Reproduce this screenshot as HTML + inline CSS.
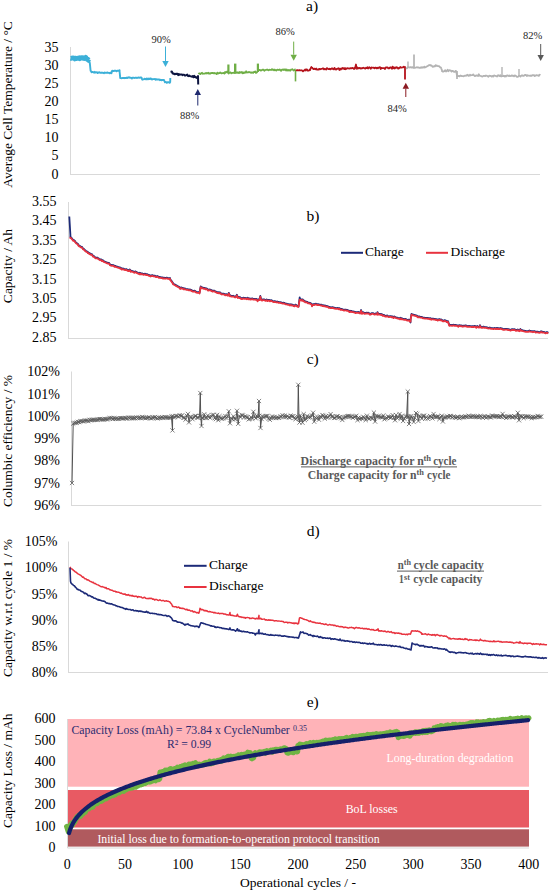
<!DOCTYPE html>
<html><head><meta charset="utf-8"><style>
html,body{margin:0;padding:0;background:#fff;width:550px;height:895px;overflow:hidden}
svg{display:block}
text{font-family:"Liberation Serif",serif}
</style></head><body>
<svg width="550" height="895" viewBox="0 0 550 895">
<rect width="550" height="895" fill="#fff"/>
<text x="306.00" y="10.90" font-size="15.5" text-anchor="start" fill="#000" font-weight="normal" >a)</text>
<text x="0" y="0" font-size="13.5" text-anchor="middle" transform="translate(11.9,104.5) rotate(-90)">Average Cell Temperature / °C</text>
<text x="58.50" y="178.55" font-size="14" text-anchor="end" fill="#000" font-weight="normal" >0</text>
<text x="58.50" y="160.41" font-size="14" text-anchor="end" fill="#000" font-weight="normal" >5</text>
<text x="58.50" y="142.26" font-size="14" text-anchor="end" fill="#000" font-weight="normal" >10</text>
<text x="58.50" y="124.12" font-size="14" text-anchor="end" fill="#000" font-weight="normal" >15</text>
<text x="58.50" y="105.98" font-size="14" text-anchor="end" fill="#000" font-weight="normal" >20</text>
<text x="58.50" y="87.84" font-size="14" text-anchor="end" fill="#000" font-weight="normal" >25</text>
<text x="58.50" y="69.69" font-size="14" text-anchor="end" fill="#000" font-weight="normal" >30</text>
<text x="58.50" y="51.55" font-size="14" text-anchor="end" fill="#000" font-weight="normal" >35</text>
<line x1="70.5" y1="47" x2="70.5" y2="174.5" stroke="#d9d9d9" stroke-width="1"/>
<line x1="70" y1="174.5" x2="540" y2="174.5" stroke="#d9d9d9" stroke-width="1"/>
<polyline points="70.50,58.30 71.10,58.46 71.70,58.18 72.30,57.88 72.90,58.10 73.50,57.84 74.10,58.38 74.70,59.02 75.30,58.12 75.90,58.06 76.50,58.62 77.10,58.56 77.70,58.45 78.30,57.94 78.90,58.39 79.50,58.76 80.10,57.75 80.70,58.20 81.30,57.49 81.90,57.80 82.50,57.53 83.10,58.35 83.70,57.84 84.30,58.61 84.90,58.56 85.50,58.40 86.00,57.24 86.10,58.31 86.70,59.04 87.30,59.60 87.90,59.25 88.50,60.26 88.50,60.01" fill="none" stroke="#3cb0d8" stroke-width="4.6" stroke-linejoin="round" />
<polyline points="88.50,60.76 89.20,62.40 89.80,62.76 89.90,63.93 90.60,70.77 90.60,70.32 91.30,71.79 91.50,72.23 92.00,72.24 92.70,71.88 93.40,72.31 94.10,72.72 94.80,71.88 95.50,72.63 96.20,72.44 96.90,72.24 97.60,73.06 98.30,72.72 99.00,72.16 99.70,72.58 100.40,72.76 101.10,72.56 101.80,72.85 102.50,72.66 103.20,72.91 103.90,73.17 104.60,72.56 105.30,72.86 106.00,72.69 106.70,72.90 107.40,72.53 108.10,72.74 108.80,72.89 109.50,73.25 110.00,73.34 110.20,72.60 110.90,72.76 111.50,73.19 111.60,72.09 112.20,70.66 112.30,70.77 113.00,71.18 113.70,71.01 114.40,70.70 115.10,70.69 115.80,70.72 116.50,71.26 117.20,70.67 117.90,70.71 118.60,70.91 119.30,70.76 119.50,70.74 120.00,75.61 120.20,78.00 120.70,77.86 121.40,78.33 122.10,78.17 122.80,77.96 123.50,78.15 124.20,77.84 124.90,78.25 125.60,77.92 126.30,78.09 127.00,77.52 127.70,78.00 128.40,77.38 129.10,77.26 129.80,77.77 130.50,77.58 131.20,77.89 131.90,78.51 132.60,77.58 133.30,77.63 134.00,77.87 134.70,77.94 135.40,77.73 136.10,77.71 136.80,77.98 137.50,77.91 138.20,77.44 138.90,77.71 139.60,77.74 140.30,77.40 141.00,77.78 141.50,77.44 141.70,78.47 142.30,79.66 142.40,79.62 143.10,79.34 143.80,79.41 144.50,78.77 145.20,78.96 145.90,79.33 146.60,78.51 147.30,79.33 148.00,78.48 148.70,79.16 149.40,78.61 150.00,79.03 150.10,78.85 150.80,78.42 151.50,79.32 152.20,79.45 152.90,79.07 153.60,79.08 154.30,79.18 155.00,79.01 155.70,79.70 156.40,79.28 157.10,79.49 157.80,79.34 158.50,79.46 159.20,79.34 159.90,80.17 160.60,79.81 161.30,80.22 162.00,80.00 162.70,79.86 163.40,80.04 164.00,80.03 164.10,80.42 164.80,81.85 165.00,82.31 165.50,81.99 166.20,82.16 166.90,82.90 167.60,82.20 168.30,82.08 169.00,82.50 169.70,82.82 170.20,81.96 170.30,78.00" fill="none" stroke="#3cb0d8" stroke-width="1.9" stroke-linejoin="round" />
<line x1="119.5" y1="70.8" x2="119.5" y2="69.4" stroke="#3cb0d8" stroke-width="1.6"/>
<polyline points="170.50,71.39 171.20,71.65 171.90,71.53 172.60,73.40 173.30,73.49 174.00,74.04 174.00,73.59 174.70,74.31 175.40,73.83 176.10,74.11 176.80,73.65 177.50,73.65 178.20,75.12 178.90,74.17 179.60,74.67 180.30,74.55 181.00,74.39 181.70,74.42 182.40,75.11 183.10,74.66 183.80,74.81 184.50,74.97 185.00,75.65 185.20,75.41 185.90,75.36 186.60,74.95 187.30,74.62 188.00,76.01 188.70,76.14 189.40,75.64 190.10,76.13 190.80,76.38 191.50,76.52 192.20,76.68 192.90,76.04 193.60,77.24 194.30,75.84 195.00,77.11 195.70,77.02 196.00,77.28 196.40,77.87 197.10,77.73 197.80,76.35 198.00,76.07 198.20,84.60" fill="none" stroke="#0d1540" stroke-width="2.0" stroke-linejoin="round" />
<polyline points="198.50,74.17 199.20,73.32 199.90,73.75 200.60,74.11 201.30,72.98 202.00,72.74 202.70,73.79 203.40,73.67 204.10,73.52 204.80,73.63 205.50,73.20 206.20,72.89 206.90,73.47 207.60,73.09 208.30,72.76 209.00,73.71 209.70,73.43 210.40,73.62 211.10,72.97 211.80,73.10 212.50,72.93 213.20,72.96 213.90,73.42 214.60,72.96 215.30,73.45 216.00,73.42 216.70,74.16 217.40,72.60 218.10,73.61 218.80,73.15 219.50,73.16 220.20,72.49 220.90,72.92 221.60,73.44 222.30,73.04 223.00,73.10 223.70,72.91 224.40,73.54 225.00,72.99 225.10,72.01 225.80,72.67 226.50,72.08 227.20,71.48 227.90,72.69 228.60,73.51 229.30,72.91 230.00,72.35 230.70,72.43 231.40,73.35 232.10,72.89 232.80,72.82 233.50,72.76 234.20,72.78 234.90,73.11 235.60,72.98 236.30,72.81 237.00,72.23 237.70,72.91 238.40,72.35 239.10,73.13 239.80,72.05 240.50,72.54 241.20,72.59 241.90,71.97 242.60,73.33 243.30,73.19 244.00,72.31 244.70,72.85 245.40,72.65 246.10,71.29 246.80,72.56 247.50,72.40 248.20,72.45 248.90,71.91 249.60,72.25 250.30,72.28 251.00,72.87 251.70,72.47 252.40,72.30 253.10,72.97 253.80,72.02 254.50,72.08 255.20,71.42 255.90,72.92 256.50,72.63 256.60,72.52 257.30,71.80 258.00,70.93 258.70,70.36 259.00,69.89 259.40,69.91 260.10,70.02 260.80,70.67 261.50,70.24 262.20,69.96 262.90,69.72 263.60,69.69 264.30,70.69 265.00,70.20 265.70,69.99 266.40,69.80 267.10,69.46 267.80,69.92 268.50,70.34 269.20,69.77 269.90,69.84 270.60,69.84 271.30,69.98 272.00,69.21 272.70,69.82 273.40,69.54 274.10,70.32 274.80,69.57 275.50,70.17 276.20,70.59 276.90,69.76 277.60,69.63 278.30,69.98 279.00,69.89 279.70,69.44 280.40,70.09 281.10,70.79 281.80,69.76 282.50,69.78 283.20,69.40 283.90,70.01 284.60,69.30 285.30,69.36 286.00,70.43 286.70,69.44 287.40,70.33 288.10,70.53 288.80,69.95 289.50,70.08 290.20,70.71 290.90,69.74 291.60,69.55 292.30,69.21 293.00,69.83 293.70,70.48 294.40,70.24 295.10,69.38 295.50,69.42" fill="none" stroke="#6fae46" stroke-width="1.8" stroke-linejoin="round" />
<rect x="227.3" y="64.5" width="2.1999999999999886" height="8.441587301587305" fill="#6fae46"/>
<rect x="234" y="63.6" width="2.4000000000000057" height="9.17142857142857" fill="#6fae46"/>
<rect x="256.8" y="63.6" width="2.1999999999999886" height="8.335999999999991" fill="#6fae46"/>
<line x1="295.5" y1="69.5" x2="295.5" y2="81.4" stroke="#6fae46" stroke-width="1.6"/>
<polyline points="296.00,70.05 296.70,70.45 297.40,70.20 298.10,70.41 298.80,70.45 299.50,70.15 300.20,70.28 300.90,70.40 301.60,70.26 302.30,70.55 303.00,71.24 303.70,70.60 304.40,70.33 305.10,69.46 305.80,70.49 306.50,69.33 307.20,69.60 307.90,70.73 308.60,70.65 309.30,70.23 310.00,69.44 310.00,70.11 310.70,68.19 311.40,67.07 311.50,67.63 312.10,67.69 312.80,68.45 313.00,68.61 313.50,69.16 314.20,69.09 314.90,68.59 315.60,69.21 316.30,68.57 317.00,69.69 317.70,69.65 318.40,69.65 319.10,68.86 319.80,69.34 320.50,69.01 321.20,68.87 321.90,68.88 322.60,68.39 323.30,68.31 324.00,69.41 324.70,68.91 325.40,69.10 326.10,69.48 326.80,68.10 327.50,68.57 328.20,69.03 328.90,69.13 329.60,68.73 330.30,69.43 331.00,69.01 331.70,68.28 332.40,68.41 333.10,69.27 333.80,69.09 334.50,67.89 335.20,69.50 335.90,69.12 336.60,69.48 337.30,68.60 338.00,68.64 338.70,68.21 339.40,70.03 340.10,68.66 340.80,69.53 341.50,68.40 342.20,68.80 342.90,67.87 343.60,68.50 344.30,69.17 345.00,68.04 345.70,69.19 346.40,68.81 347.10,68.11 347.80,68.37 348.50,68.38 349.20,68.57 349.90,68.32 350.60,68.16 351.30,68.41 352.00,68.04 352.70,67.89 353.40,68.50 354.10,68.96 354.80,67.74 355.00,68.50 355.50,66.43 356.00,64.51 356.20,66.07 356.90,67.62 357.00,68.95 357.60,67.81 358.30,68.39 359.00,68.08 359.70,67.81 360.40,68.48 361.10,68.10 361.80,68.48 362.50,68.15 363.20,67.63 363.90,68.12 364.60,68.19 365.30,68.64 366.00,67.71 366.70,68.14 367.40,67.29 368.10,68.47 368.80,67.60 369.50,67.24 370.20,68.11 370.90,68.69 371.60,67.37 372.30,67.58 373.00,67.75 373.70,67.56 374.40,68.31 375.10,67.71 375.80,67.75 376.50,68.40 377.20,67.73 377.90,68.32 378.60,67.61 379.30,67.49 380.00,67.18 380.70,69.02 381.40,67.93 382.10,68.21 382.80,68.06 383.50,68.16 384.20,68.10 384.90,69.02 385.60,67.55 386.30,67.28 387.00,67.55 387.70,67.39 388.40,68.43 389.10,68.46 389.80,67.57 390.50,67.35 391.20,67.86 391.90,68.73 392.60,66.62 393.30,68.29 394.00,67.49 394.70,68.54 395.40,67.48 396.10,67.88 396.80,67.26 397.50,67.52 398.20,68.70 398.90,68.42 399.60,67.80 400.00,67.56 400.30,66.99 401.00,67.60 401.70,67.64 402.40,67.48 403.10,67.33 403.80,66.68 404.00,67.17 404.50,67.18 405.00,67.00 405.00,79.50" fill="none" stroke="#b5121b" stroke-width="1.8" stroke-linejoin="round" />
<polyline points="406.00,68.15 406.80,68.45 407.60,67.46 408.40,67.16 409.20,67.52 410.00,67.26 410.80,67.21 411.60,67.56 412.40,67.09 413.20,67.92 414.00,67.58 414.80,67.77 415.60,67.57 416.40,67.31 417.20,67.21 418.00,67.58 418.80,67.44 419.60,67.84 420.40,67.74 421.20,67.07 422.00,67.80 422.80,67.11 423.60,67.49 424.00,67.65 424.40,66.59 425.20,67.33 426.00,67.01 426.80,66.51 427.60,66.03 428.40,65.71 429.20,65.06 430.00,65.07 430.00,64.92 430.80,65.67 431.60,65.45 432.40,66.60 433.00,66.87 433.20,66.66 434.00,66.26 434.80,66.49 435.60,65.12 436.40,65.93 437.00,65.62 437.20,65.74 438.00,66.19 438.80,66.07 439.60,66.67 440.40,67.52 441.00,67.72 441.20,68.30 442.00,70.24 442.00,71.27 442.80,71.58 443.60,71.50 444.40,71.12 445.20,70.22 446.00,71.47 446.80,70.93 447.60,69.73 448.40,71.19 449.20,70.25 450.00,70.35 450.80,70.68 451.60,71.64 452.40,70.81 453.20,71.14 454.00,71.87 454.80,71.80 455.60,70.95 456.00,70.88 456.40,72.37 457.00,75.65 457.20,76.20 458.00,76.16 458.80,75.99 459.60,76.40 460.40,75.48 461.20,75.81 462.00,76.17 462.80,76.07 463.60,76.28 464.40,75.91 465.20,75.53 466.00,75.83 466.80,75.12 467.60,74.77 468.40,75.85 469.20,75.50 470.00,75.65 470.00,74.65 470.80,75.33 471.60,75.23 472.40,75.11 473.20,74.43 474.00,75.40 474.80,76.03 475.60,75.78 476.40,75.31 477.20,75.61 478.00,76.01 478.80,74.27 479.60,75.60 480.40,75.94 481.20,76.03 482.00,76.55 482.80,76.28 483.60,75.88 484.40,75.89 485.20,76.15 486.00,75.50 486.80,75.76 487.60,76.25 488.40,76.79 489.20,75.74 490.00,75.81 490.80,75.95 491.60,76.53 492.40,75.86 493.20,76.62 494.00,75.42 494.80,75.82 495.60,75.83 496.40,76.33 497.20,76.48 498.00,75.21 498.80,75.52 499.60,76.16 500.00,75.67 500.40,75.23 501.20,76.50 502.00,76.22 502.80,76.21 503.60,75.72 504.40,76.46 505.20,75.82 506.00,76.47 506.80,75.46 507.60,75.48 508.40,76.00 509.20,75.53 510.00,76.21 510.80,76.00 511.60,75.39 512.40,75.88 513.20,75.66 514.00,76.28 514.80,75.50 515.60,75.59 516.40,76.40 517.20,76.90 518.00,76.77 518.80,75.80 519.60,75.86 520.40,76.51 521.20,75.67 522.00,75.24 522.80,75.77 523.60,75.93 524.40,75.28 525.20,74.86 526.00,74.96 526.80,76.00 527.60,75.28 528.40,75.57 529.20,75.74 530.00,75.93 530.80,75.45 531.60,75.85 532.40,75.15 533.20,75.40 534.00,75.06 534.80,76.13 535.60,75.54 536.40,75.18 537.20,75.36 538.00,75.41 538.80,75.87 539.60,74.71 540.00,74.98 540.40,75.31" fill="none" stroke="#b3b3b3" stroke-width="1.8" stroke-linejoin="round" />
<line x1="414" y1="67.5" x2="414" y2="54.5" stroke="#b3b3b3" stroke-width="1.7"/>
<line x1="408" y1="67.5" x2="408" y2="61.5" stroke="#b3b3b3" stroke-width="1.4"/>
<line x1="457" y1="71" x2="457" y2="79" stroke="#b3b3b3" stroke-width="1.7"/>
<line x1="502" y1="76" x2="502" y2="67" stroke="#b3b3b3" stroke-width="1.4"/>
<line x1="519" y1="76" x2="519" y2="69" stroke="#b3b3b3" stroke-width="1.4"/>
<line x1="165.5" y1="46.5" x2="165.5" y2="61" stroke="#3cb0d8" stroke-width="1"/>
<path d="M162.3,61 L168.7,61 L165.5,67 Z" fill="#3cb0d8"/>
<text x="161.00" y="43.20" font-size="10.5" text-anchor="middle" fill="#262626" font-weight="normal" >90%</text>
<line x1="197.8" y1="105.5" x2="197.8" y2="94.9" stroke="#1f2a6e" stroke-width="1"/>
<path d="M194.60000000000002,94.9 L201.0,94.9 L197.8,88.9 Z" fill="#1f2a6e"/>
<text x="189.50" y="119.00" font-size="10.5" text-anchor="middle" fill="#262626" font-weight="normal" >88%</text>
<line x1="293.7" y1="41.6" x2="293.7" y2="54.7" stroke="#6fae46" stroke-width="1"/>
<path d="M290.5,54.7 L296.9,54.7 L293.7,60.7 Z" fill="#6fae46"/>
<text x="285.00" y="35.20" font-size="10.5" text-anchor="middle" fill="#262626" font-weight="normal" >86%</text>
<line x1="405.8" y1="97" x2="405.8" y2="88.7" stroke="#8b1a22" stroke-width="1"/>
<path d="M402.6,88.7 L409.0,88.7 L405.8,82.7 Z" fill="#8b1a22"/>
<text x="397.00" y="111.50" font-size="10.5" text-anchor="middle" fill="#262626" font-weight="normal" >84%</text>
<line x1="540.7" y1="44" x2="540.7" y2="55" stroke="#595959" stroke-width="1"/>
<path d="M537.5,55 L543.9000000000001,55 L540.7,61 Z" fill="#595959"/>
<text x="532.50" y="38.80" font-size="10.5" text-anchor="middle" fill="#262626" font-weight="normal" >82%</text>
<text x="306.50" y="221.30" font-size="15.5" text-anchor="start" fill="#000" font-weight="normal" >b)</text>
<text x="0" y="0" font-size="13.5" text-anchor="middle" transform="translate(11.9,266) rotate(-90)">Capacity / Ah</text>
<text x="56.50" y="341.80" font-size="14" text-anchor="end" fill="#000" font-weight="normal" >2.85</text>
<text x="56.50" y="322.37" font-size="14" text-anchor="end" fill="#000" font-weight="normal" >2.95</text>
<text x="56.50" y="302.94" font-size="14" text-anchor="end" fill="#000" font-weight="normal" >3.05</text>
<text x="56.50" y="283.51" font-size="14" text-anchor="end" fill="#000" font-weight="normal" >3.15</text>
<text x="56.50" y="264.09" font-size="14" text-anchor="end" fill="#000" font-weight="normal" >3.25</text>
<text x="56.50" y="244.66" font-size="14" text-anchor="end" fill="#000" font-weight="normal" >3.35</text>
<text x="56.50" y="225.23" font-size="14" text-anchor="end" fill="#000" font-weight="normal" >3.45</text>
<text x="56.50" y="205.80" font-size="14" text-anchor="end" fill="#000" font-weight="normal" >3.55</text>
<line x1="68.5" y1="202" x2="68.5" y2="338.5" stroke="#d9d9d9" stroke-width="1"/>
<line x1="68" y1="338.5" x2="548" y2="338.5" stroke="#d9d9d9" stroke-width="1"/>
<polyline points="69.30,216.50 70.40,235.00 70.40,237.10 71.30,237.64 72.20,238.75 73.10,240.02 74.00,240.20 74.90,241.02 75.80,242.36 76.70,243.01 76.90,243.25 77.60,243.49 78.50,244.99 79.40,245.70 80.30,246.12 81.20,246.92 82.10,246.88 83.00,248.45 83.90,248.96 84.80,249.92 85.70,250.76 86.60,251.22 87.50,251.59 87.80,252.46 88.40,252.49 89.30,253.15 90.20,253.60 91.10,254.22 92.00,254.16 92.90,255.76 93.80,256.00 94.70,256.80 95.60,257.60 96.50,257.54 97.40,257.53 98.30,258.34 98.70,258.49 99.20,258.92 100.10,259.50 101.00,259.28 101.90,260.39 102.80,260.24 103.70,261.19 104.60,261.47 105.50,261.81 106.40,262.29 107.30,262.55 108.20,262.94 109.10,263.02 109.60,263.74 110.00,264.46 110.90,264.84 111.80,264.99 112.70,265.15 113.60,265.09 114.50,266.07 115.40,265.96 116.30,266.31 117.20,266.59 118.10,267.05 119.00,267.23 119.90,267.69 120.00,267.42 120.80,267.86 121.70,268.90 122.60,268.44 123.50,268.64 124.40,269.12 125.30,269.42 126.20,269.12 127.10,269.64 128.00,270.23 128.90,270.28 129.80,269.48 130.70,271.16 131.60,270.74 132.50,271.21 133.40,271.28 134.30,272.13 135.20,271.34 136.10,271.98 137.00,272.27 137.90,272.87 138.80,273.10 139.70,273.59 140.00,272.78 140.60,273.59 141.50,273.45 142.40,273.51 143.30,274.04 144.20,273.77 145.10,273.60 146.00,274.28 146.90,274.11 147.80,274.54 148.70,275.01 149.60,275.17 150.50,275.72 151.40,275.36 152.30,275.13 153.20,275.53 154.10,275.65 155.00,275.73 155.90,276.40 156.80,276.25 157.70,276.02 158.60,276.99 159.50,276.92 160.00,277.16 160.40,277.14 161.30,277.42 162.20,277.37 163.10,277.85 164.00,277.74 164.90,277.85 165.80,277.98 166.70,277.55 167.60,278.06 168.50,278.16 169.40,278.43 170.00,278.04 170.30,279.45 171.20,280.52 172.10,281.66 173.00,283.04 173.00,283.47 173.90,284.02 174.80,284.34 175.70,285.08 176.60,285.36 177.50,286.22 178.40,286.34 179.30,287.05 180.00,287.74 180.20,288.27 181.10,287.44 182.00,287.83 182.90,287.96 183.80,288.68 184.70,288.33 185.60,288.77 186.50,289.14 187.40,289.09 188.30,289.33 189.20,289.71 190.10,289.46 191.00,289.89 191.90,290.44 192.80,290.84 193.70,290.98 194.60,290.74 195.50,291.36 196.40,291.98 197.30,292.14 198.20,292.19 199.10,292.18 199.50,292.74 200.00,289.96 200.70,286.40 200.90,286.57 201.80,287.53 202.70,287.45 203.60,288.01 204.50,287.80 205.40,288.51 206.30,288.33 207.20,288.75 208.10,289.82 209.00,289.59 209.90,289.49 210.80,289.90 211.70,290.31 212.60,290.86 213.50,290.63 214.40,290.54 215.00,291.17 215.30,291.34 216.20,291.62 217.10,292.23 218.00,292.19 218.90,292.59 219.80,292.26 220.70,293.11 221.60,293.73 222.50,293.58 223.40,293.68 224.30,293.90 225.20,294.64 226.10,294.08 227.00,294.58 227.90,295.00 228.80,292.84 229.70,295.23 230.00,295.54 230.60,295.49 231.50,295.79 232.40,295.89 233.30,295.77 234.20,296.28 235.10,296.73 236.00,296.36 236.90,294.76 237.80,297.21 238.70,296.87 239.60,297.42 240.00,297.13 240.50,297.84 241.40,298.27 242.30,298.27 243.20,297.68 244.10,298.05 245.00,297.95 245.90,298.03 246.80,298.55 247.70,297.77 248.60,298.57 249.50,298.32 250.40,298.84 251.30,298.56 252.20,298.39 253.10,298.76 254.00,298.98 254.90,298.85 255.80,299.07 256.70,298.85 257.60,300.45 258.50,299.45 259.40,299.47 260.30,295.89 261.20,299.45 262.10,299.82 263.00,299.46 263.90,299.47 264.80,299.71 265.70,300.21 266.60,299.52 267.50,300.37 268.40,299.91 269.30,299.85 270.00,300.63 270.20,300.26 271.10,300.08 272.00,300.54 272.90,301.10 273.80,301.35 274.70,301.05 275.60,301.47 276.50,301.74 277.40,301.51 278.30,301.99 279.20,302.05 280.10,302.07 281.00,302.26 281.90,302.61 282.80,302.77 283.70,302.77 284.60,302.99 285.50,303.63 286.40,303.54 287.30,303.91 288.20,304.19 289.10,304.18 290.00,304.86 290.90,304.11 291.80,304.78 292.70,304.61 293.60,305.44 294.50,305.57 295.40,304.65 296.30,305.13 297.20,305.79 298.10,306.01 298.50,306.57 299.00,302.87 299.70,297.39 299.90,299.04 300.80,299.22 301.70,299.95 302.60,299.37 303.50,300.64 304.40,300.54 305.30,301.54 306.20,301.59 307.10,301.79 308.00,302.57 308.90,302.59 309.80,302.99 310.70,303.20 311.60,304.06 312.00,305.60 312.50,304.49 313.40,304.03 314.30,304.28 315.20,303.86 316.00,303.72 316.10,303.94 317.00,304.28 317.90,304.06 318.80,304.28 319.70,304.50 320.60,304.76 321.50,304.66 322.40,305.43 323.30,305.20 324.20,305.65 325.10,305.46 326.00,306.00 326.90,306.21 327.80,306.16 328.70,307.08 329.60,306.78 330.50,307.40 331.40,307.34 332.30,307.05 333.20,307.33 334.10,307.77 335.00,307.85 335.90,308.04 336.80,308.13 337.70,307.87 338.60,308.53 339.50,308.13 340.40,309.10 341.30,308.96 342.20,309.16 343.10,309.50 344.00,309.84 344.90,309.53 345.80,309.62 346.70,310.02 347.60,309.92 348.50,310.44 349.40,311.40 350.00,310.73 350.30,311.29 351.20,310.81 352.10,311.43 353.00,311.37 353.90,311.58 354.80,311.89 355.70,312.37 356.60,312.03 357.50,312.14 358.40,311.93 359.30,312.53 360.00,312.38 360.20,312.72 361.10,310.02 362.00,313.13 362.90,312.09 363.80,312.67 364.70,313.09 365.60,312.79 366.50,312.73 367.40,312.96 368.30,312.70 369.20,313.22 370.10,313.99 371.00,313.67 371.90,313.07 372.80,313.21 373.70,313.42 374.60,313.92 375.50,313.44 376.40,313.55 377.30,314.10 377.50,312.11 378.20,313.87 379.10,313.83 380.00,313.87 380.90,314.31 381.80,314.02 382.70,315.09 383.60,314.85 384.50,315.36 385.40,315.96 386.30,315.92 387.20,315.40 388.10,316.18 389.00,316.45 389.90,316.05 390.80,316.16 391.70,316.59 392.60,316.32 393.50,317.42 394.40,316.43 395.30,317.00 396.20,317.43 397.10,317.61 398.00,317.91 398.90,318.12 399.80,318.15 400.00,318.59 400.70,317.74 401.60,318.55 402.50,318.51 403.40,318.94 404.30,319.14 405.20,318.97 406.10,319.22 407.00,319.82 407.90,319.86 408.80,319.72 409.70,320.71 410.50,322.44 410.60,319.16 411.50,313.84 411.50,314.50 412.40,314.35 413.30,314.54 414.20,314.77 415.10,315.03 416.00,315.49 416.90,315.74 417.80,316.49 418.70,316.51 419.00,316.62 419.60,316.48 420.50,316.96 421.40,316.84 422.30,317.19 423.20,317.69 424.10,317.62 425.00,317.79 425.90,317.88 426.80,317.92 427.70,318.00 428.60,318.08 429.50,318.53 430.40,318.12 431.30,318.98 432.20,318.72 433.10,318.62 434.00,318.83 434.90,318.90 435.80,319.29 436.70,319.16 437.60,319.85 438.50,319.41 439.40,319.09 440.30,319.69 441.20,319.44 442.10,320.16 443.00,320.63 443.90,320.64 444.80,320.17 445.70,320.48 446.60,321.38 447.50,321.07 448.00,321.05 448.40,322.35 449.30,324.99 449.50,325.14 450.20,324.84 451.10,324.97 452.00,325.11 452.90,324.80 453.80,324.73 454.70,325.12 455.60,324.89 456.50,325.21 457.40,325.32 458.30,326.06 459.20,325.16 460.10,325.44 461.00,325.49 461.90,325.73 462.80,325.98 463.70,325.58 464.60,325.54 465.50,325.36 466.40,325.64 467.30,326.14 468.20,326.05 469.10,325.79 470.00,326.05 470.90,326.23 471.80,326.44 472.70,326.17 473.60,326.33 474.50,325.93 475.40,326.19 476.30,327.08 477.20,326.00 478.10,326.62 479.00,326.85 479.90,326.73 480.00,325.11 480.80,326.90 481.70,326.99 482.60,327.04 483.50,326.57 484.40,327.17 485.30,327.03 486.20,327.20 487.10,327.50 488.00,327.70 488.90,327.85 489.80,327.51 490.70,328.01 491.60,328.16 492.50,328.22 493.40,328.37 494.30,327.98 495.20,328.05 496.10,328.42 497.00,327.84 497.90,328.39 498.80,328.24 499.70,328.36 500.60,328.02 501.50,328.35 502.40,328.69 503.30,329.04 504.20,329.14 505.10,328.89 506.00,328.93 506.90,328.82 507.80,329.26 508.70,329.14 509.60,329.47 510.50,329.89 511.40,329.43 512.30,329.06 513.20,329.33 514.10,329.22 515.00,329.37 515.90,330.20 516.80,329.95 517.70,329.50 518.60,330.22 519.50,330.48 520.40,329.07 521.30,330.05 522.20,330.22 523.10,330.48 524.00,330.67 524.90,330.90 525.80,330.99 526.70,331.05 527.60,331.18 528.50,331.04 529.40,330.46 530.30,330.95 531.20,331.16 532.10,331.03 533.00,331.49 533.90,331.18 534.80,331.09 535.70,331.87 536.60,331.71 537.50,331.65 538.40,331.94 539.30,332.05 540.20,331.91 541.10,331.14 542.00,331.75 542.90,331.89 543.80,331.81 544.70,332.24 545.60,332.61 546.50,332.18 547.40,332.06 548.00,333.06" fill="none" stroke="#1c2a78" stroke-width="1.8" stroke-linejoin="round" />
<polyline points="69.50,237.46 70.40,237.85 71.30,238.39 72.20,239.50 73.10,240.77 74.00,240.95 74.90,241.77 75.80,243.11 76.70,243.76 76.90,244.00 77.60,244.24 78.50,245.74 79.40,246.45 80.30,246.87 81.20,247.67 82.10,247.63 83.00,249.20 83.90,249.71 84.80,250.67 85.70,251.51 86.60,251.97 87.50,252.34 87.80,253.21 88.40,253.24 89.30,253.90 90.20,254.35 91.10,254.97 92.00,254.91 92.90,256.51 93.80,256.75 94.70,257.55 95.60,258.35 96.50,258.29 97.40,258.28 98.30,259.09 98.70,259.24 99.20,259.67 100.10,260.25 101.00,260.03 101.90,261.14 102.80,260.99 103.70,261.94 104.60,262.22 105.50,262.56 106.40,263.04 107.30,263.30 108.20,263.69 109.10,263.77 109.60,264.49 110.00,265.21 110.90,265.59 111.80,265.74 112.70,265.90 113.60,265.84 114.50,266.82 115.40,266.71 116.30,267.06 117.20,267.34 118.10,267.80 119.00,267.98 119.90,268.44 120.00,268.17 120.80,268.61 121.70,269.65 122.60,269.19 123.50,269.39 124.40,269.87 125.30,270.17 126.20,269.87 127.10,270.39 128.00,270.98 128.90,271.03 129.80,270.23 130.70,271.91 131.60,271.49 132.50,271.96 133.40,272.03 134.30,272.88 135.20,272.09 136.10,272.73 137.00,273.02 137.90,273.62 138.80,273.85 139.70,274.34 140.00,273.53 140.60,274.34 141.50,274.20 142.40,274.26 143.30,274.79 144.20,274.52 145.10,274.35 146.00,275.03 146.90,274.86 147.80,275.29 148.70,275.76 149.60,275.92 150.50,276.47 151.40,276.11 152.30,275.88 153.20,276.28 154.10,276.40 155.00,276.48 155.90,277.15 156.80,277.00 157.70,276.77 158.60,277.74 159.50,277.67 160.00,277.91 160.40,277.89 161.30,278.17 162.20,278.12 163.10,278.60 164.00,278.49 164.90,278.60 165.80,278.73 166.70,278.30 167.60,278.81 168.50,278.91 169.40,279.18 170.00,278.79 170.30,280.20 171.20,281.27 172.10,282.41 173.00,283.79 173.00,284.22 173.90,284.77 174.80,285.09 175.70,285.83 176.60,286.11 177.50,286.97 178.40,287.09 179.30,287.80 180.00,288.49 180.20,289.02 181.10,288.19 182.00,288.58 182.90,288.71 183.80,289.43 184.70,289.08 185.60,289.52 186.50,289.89 187.40,289.84 188.30,290.08 189.20,290.46 190.10,290.21 191.00,290.64 191.90,291.19 192.80,291.59 193.70,291.73 194.60,291.49 195.50,292.11 196.40,292.73 197.30,292.89 198.20,292.94 199.10,292.93 199.50,293.49 200.00,290.71 200.70,287.15 200.90,287.32 201.80,288.28 202.70,288.20 203.60,288.76 204.50,288.55 205.40,289.26 206.30,289.08 207.20,289.50 208.10,290.57 209.00,290.34 209.90,290.24 210.80,290.65 211.70,291.06 212.60,291.61 213.50,291.38 214.40,291.29 215.00,291.92 215.30,292.09 216.20,292.37 217.10,292.98 218.00,292.94 218.90,293.34 219.80,293.01 220.70,293.86 221.60,294.48 222.50,294.33 223.40,294.43 224.30,294.65 225.20,295.39 226.10,294.83 227.00,295.33 227.90,295.75 228.80,293.59 229.70,295.98 230.00,296.29 230.60,296.24 231.50,296.54 232.40,296.64 233.30,296.52 234.20,297.03 235.10,297.48 236.00,297.11 236.90,295.51 237.80,297.96 238.70,297.62 239.60,298.17 240.00,297.88 240.50,298.59 241.40,299.02 242.30,299.02 243.20,298.43 244.10,298.80 245.00,298.70 245.90,298.78 246.80,299.30 247.70,298.52 248.60,299.32 249.50,299.07 250.40,299.59 251.30,299.31 252.20,299.14 253.10,299.51 254.00,299.73 254.90,299.60 255.80,299.82 256.70,299.60 257.60,301.20 258.50,300.20 259.40,300.22 260.30,296.64 261.20,300.20 262.10,300.57 263.00,300.21 263.90,300.22 264.80,300.46 265.70,300.96 266.60,300.27 267.50,301.12 268.40,300.66 269.30,300.60 270.00,301.38 270.20,301.01 271.10,300.83 272.00,301.29 272.90,301.85 273.80,302.10 274.70,301.80 275.60,302.22 276.50,302.49 277.40,302.26 278.30,302.74 279.20,302.80 280.10,302.82 281.00,303.01 281.90,303.36 282.80,303.52 283.70,303.52 284.60,303.74 285.50,304.38 286.40,304.29 287.30,304.66 288.20,304.94 289.10,304.93 290.00,305.61 290.90,304.86 291.80,305.53 292.70,305.36 293.60,306.19 294.50,306.32 295.40,305.40 296.30,305.88 297.20,306.54 298.10,306.76 298.50,306.82 299.00,303.62 299.70,299.64 299.90,299.79 300.80,299.97 301.70,300.70 302.60,300.12 303.50,301.39 304.40,301.29 305.30,302.29 306.20,302.34 307.10,302.54 308.00,303.32 308.90,303.34 309.80,303.74 310.70,303.95 311.60,304.81 312.00,306.35 312.50,305.24 313.40,304.78 314.30,305.03 315.20,304.61 316.00,304.47 316.10,304.69 317.00,305.03 317.90,304.81 318.80,305.03 319.70,305.25 320.60,305.51 321.50,305.41 322.40,306.18 323.30,305.95 324.20,306.40 325.10,306.21 326.00,306.75 326.90,306.96 327.80,306.91 328.70,307.83 329.60,307.53 330.50,308.15 331.40,308.09 332.30,307.80 333.20,308.08 334.10,308.52 335.00,308.60 335.90,308.79 336.80,308.88 337.70,308.62 338.60,309.28 339.50,308.88 340.40,309.85 341.30,309.71 342.20,309.91 343.10,310.25 344.00,310.59 344.90,310.28 345.80,310.37 346.70,310.77 347.60,310.67 348.50,311.19 349.40,312.15 350.00,311.48 350.30,312.04 351.20,311.56 352.10,312.18 353.00,312.12 353.90,312.33 354.80,312.64 355.70,313.12 356.60,312.78 357.50,312.89 358.40,312.68 359.30,313.28 360.00,313.13 360.20,313.47 361.10,310.77 362.00,313.88 362.90,312.84 363.80,313.42 364.70,313.84 365.60,313.54 366.50,313.48 367.40,313.71 368.30,313.45 369.20,313.97 370.10,314.74 371.00,314.42 371.90,313.82 372.80,313.96 373.70,314.17 374.60,314.67 375.50,314.19 376.40,314.30 377.30,314.85 377.50,312.86 378.20,314.62 379.10,314.58 380.00,314.62 380.90,315.06 381.80,314.77 382.70,315.84 383.60,315.60 384.50,316.11 385.40,316.71 386.30,316.67 387.20,316.15 388.10,316.93 389.00,317.20 389.90,316.80 390.80,316.91 391.70,317.34 392.60,317.07 393.50,318.17 394.40,317.18 395.30,317.75 396.20,318.18 397.10,318.36 398.00,318.66 398.90,318.87 399.80,318.90 400.00,319.34 400.70,318.49 401.60,319.30 402.50,319.26 403.40,319.69 404.30,319.89 405.20,319.72 406.10,319.97 407.00,320.57 407.90,320.61 408.80,320.47 409.70,321.46 410.50,321.69 410.60,319.91 411.50,314.59 411.50,315.25 412.40,315.10 413.30,315.29 414.20,315.52 415.10,315.78 416.00,316.24 416.90,316.49 417.80,317.24 418.70,317.26 419.00,317.37 419.60,317.23 420.50,317.71 421.40,317.59 422.30,317.94 423.20,318.44 424.10,318.37 425.00,318.54 425.90,318.63 426.80,318.67 427.70,318.75 428.60,318.83 429.50,319.28 430.40,318.87 431.30,319.73 432.20,319.47 433.10,319.37 434.00,319.58 434.90,319.65 435.80,320.04 436.70,319.91 437.60,320.60 438.50,320.16 439.40,319.84 440.30,320.44 441.20,320.19 442.10,320.91 443.00,321.38 443.90,321.39 444.80,320.92 445.70,321.23 446.60,322.13 447.50,321.82 448.00,321.80 448.40,323.10 449.30,325.74 449.50,325.89 450.20,325.59 451.10,325.72 452.00,325.86 452.90,325.55 453.80,325.48 454.70,325.87 455.60,325.64 456.50,325.96 457.40,326.07 458.30,326.81 459.20,325.91 460.10,326.19 461.00,326.24 461.90,326.48 462.80,326.73 463.70,326.33 464.60,326.29 465.50,326.11 466.40,326.39 467.30,326.89 468.20,326.80 469.10,326.54 470.00,326.80 470.90,326.98 471.80,327.19 472.70,326.92 473.60,327.08 474.50,326.68 475.40,326.94 476.30,327.83 477.20,326.75 478.10,327.37 479.00,327.60 479.90,327.48 480.00,325.86 480.80,327.65 481.70,327.74 482.60,327.79 483.50,327.32 484.40,327.92 485.30,327.78 486.20,327.95 487.10,328.25 488.00,328.45 488.90,328.60 489.80,328.26 490.70,328.76 491.60,328.91 492.50,328.97 493.40,329.12 494.30,328.73 495.20,328.80 496.10,329.17 497.00,328.59 497.90,329.14 498.80,328.99 499.70,329.11 500.60,328.77 501.50,329.10 502.40,329.44 503.30,329.79 504.20,329.89 505.10,329.64 506.00,329.68 506.90,329.57 507.80,330.01 508.70,329.89 509.60,330.22 510.50,330.64 511.40,330.18 512.30,329.81 513.20,330.08 514.10,329.97 515.00,330.12 515.90,330.95 516.80,330.70 517.70,330.25 518.60,330.97 519.50,331.23 520.40,329.82 521.30,330.80 522.20,330.97 523.10,331.23 524.00,331.42 524.90,331.65 525.80,331.74 526.70,331.80 527.60,331.93 528.50,331.79 529.40,331.21 530.30,331.70 531.20,331.91 532.10,331.78 533.00,332.24 533.90,331.93 534.80,331.84 535.70,332.62 536.60,332.46 537.50,332.40 538.40,332.69 539.30,332.80 540.20,332.66 541.10,331.89 542.00,332.50 542.90,332.64 543.80,332.56 544.70,332.99 545.60,333.36 546.50,332.93 547.40,332.81 548.00,333.81" fill="none" stroke="#e8333f" stroke-width="1.8" stroke-linejoin="round" />
<line x1="341" y1="252.8" x2="363" y2="252.8" stroke="#1c2a78" stroke-width="2"/>
<text x="365.00" y="255.80" font-size="13.5" text-anchor="start" fill="#000" font-weight="normal" >Charge</text>
<line x1="426" y1="252.8" x2="448" y2="252.8" stroke="#e8333f" stroke-width="2"/>
<text x="450.50" y="255.80" font-size="13.5" text-anchor="start" fill="#000" font-weight="normal" >Discharge</text>
<text x="306.70" y="364.20" font-size="15.5" text-anchor="start" fill="#000" font-weight="normal" >c)</text>
<text x="0" y="0" font-size="13.5" text-anchor="middle" transform="translate(11.9,441) rotate(-90)">Columbic efficiency / %</text>
<text x="60.00" y="509.80" font-size="14" text-anchor="end" fill="#000" font-weight="normal" >96%</text>
<text x="60.00" y="487.55" font-size="14" text-anchor="end" fill="#000" font-weight="normal" >97%</text>
<text x="60.00" y="465.30" font-size="14" text-anchor="end" fill="#000" font-weight="normal" >98%</text>
<text x="60.00" y="443.05" font-size="14" text-anchor="end" fill="#000" font-weight="normal" >99%</text>
<text x="60.00" y="420.80" font-size="14" text-anchor="end" fill="#000" font-weight="normal" >100%</text>
<text x="60.00" y="398.55" font-size="14" text-anchor="end" fill="#000" font-weight="normal" >101%</text>
<text x="60.00" y="376.30" font-size="14" text-anchor="end" fill="#000" font-weight="normal" >102%</text>
<line x1="71.5" y1="371.5" x2="71.5" y2="505.5" stroke="#d9d9d9" stroke-width="1"/>
<line x1="71" y1="505.5" x2="541.5" y2="505.5" stroke="#d9d9d9" stroke-width="1"/>
<polyline points="72.00,483.00 73.20,423.58 74.37,422.92 75.54,423.05 76.71,422.73 77.88,421.95 79.05,422.09 80.22,421.30 81.39,420.97 82.56,421.18 83.73,421.21 84.90,420.54 86.07,420.71 87.24,420.38 88.41,421.23 89.58,419.82 90.75,420.43 91.92,419.84 93.09,419.73 94.26,419.95 95.43,419.93 96.60,419.97 97.77,419.56 98.94,419.15 100.11,419.09 101.28,419.37 102.45,419.31 103.62,419.52 104.79,419.09 105.96,419.23 107.13,419.31 108.30,418.75 109.47,418.09 110.64,418.11 111.81,417.98 112.98,419.01 114.15,418.13 115.32,418.83 116.49,418.57 117.66,418.94 118.83,418.66 120.00,418.25 121.17,418.18 122.34,418.26 123.51,418.26 124.68,417.98 125.85,418.13 127.02,418.68 128.19,417.49 129.36,418.15 130.53,417.71 131.70,418.07 132.87,418.27 134.04,417.92 135.21,418.19 136.38,417.33 137.55,418.25 138.72,417.62 139.89,418.02 141.06,417.85 142.23,416.87 143.40,417.49 144.57,417.82 145.74,418.27 146.91,417.81 148.08,417.78 149.25,417.18 150.42,418.16 151.59,418.28 152.76,417.64 153.93,417.54 155.10,417.03 156.27,417.89 157.44,418.51 158.61,417.80 159.78,417.98 160.95,417.71 162.12,417.16 163.29,417.96 164.46,417.04 165.63,417.38 166.80,417.54 167.97,417.74 169.14,417.56 170.31,417.83 171.48,416.56 172.50,430.40 172.65,415.98 173.82,417.46 174.99,416.61 176.16,415.95 177.33,416.00 178.50,416.85 179.67,415.35 180.84,415.90 182.01,415.58 183.18,417.58 184.35,417.83 185.52,419.58 186.69,415.73 187.86,413.87 189.03,422.37 190.20,417.13 191.37,417.01 192.54,419.24 193.71,416.99 194.88,416.09 196.05,415.91 197.22,417.73 198.39,417.69 199.56,415.84 200.30,393.00 200.73,416.27 201.50,426.00 201.90,417.94 203.07,417.98 204.24,414.34 205.41,418.03 206.58,417.97 207.75,415.38 208.92,416.99 210.09,417.79 211.26,416.70 212.43,414.98 213.60,414.83 214.77,418.16 215.94,419.06 217.11,414.91 218.28,420.20 219.45,416.08 220.62,418.37 221.79,418.67 222.96,418.40 224.13,417.48 225.30,416.03 226.47,418.00 227.64,416.52 228.81,411.31 229.98,423.30 231.15,418.08 232.32,419.30 233.49,416.29 234.66,418.91 235.83,419.04 237.00,410.79 238.17,423.79 239.34,415.97 240.51,417.09 241.68,414.86 242.85,415.41 244.02,417.38 245.19,416.19 246.36,417.10 247.53,417.16 248.70,419.40 249.87,418.70 251.04,417.22 252.21,418.60 253.38,411.77 254.55,416.89 255.72,418.26 256.89,415.89 258.06,416.95 259.00,401.00 259.23,415.80 260.40,417.38 260.50,428.00 261.57,419.05 262.74,416.42 263.91,417.50 265.08,416.26 266.25,415.98 267.42,415.88 268.59,418.84 269.76,419.84 270.93,417.77 272.10,416.45 273.27,418.01 274.44,416.86 275.61,418.11 276.78,417.55 277.95,417.53 279.12,417.89 280.29,416.58 281.46,416.78 282.63,415.32 283.80,416.73 284.97,415.65 286.14,417.05 287.31,416.16 288.48,417.32 289.65,417.71 290.82,415.64 291.99,416.31 293.16,416.16 294.33,418.02 295.50,419.07 296.67,418.13 297.84,416.81 298.30,384.80 299.01,418.80 299.50,422.50 300.18,415.52 301.35,418.84 302.52,422.69 303.69,414.13 304.86,420.10 306.03,418.92 307.20,416.04 308.37,417.36 309.54,416.94 310.71,417.29 311.88,415.54 313.05,412.67 314.22,421.67 315.39,417.41 316.56,418.48 317.73,417.25 318.90,419.74 320.07,416.37 321.24,417.44 322.41,415.05 323.58,415.77 324.75,418.61 325.92,416.11 327.09,417.73 328.26,417.08 329.43,415.99 330.60,414.14 331.77,416.57 332.94,416.60 334.11,417.96 335.28,417.85 336.45,416.50 337.62,416.13 338.79,417.44 339.96,417.02 341.13,418.26 342.30,420.04 343.47,418.05 344.64,417.08 345.81,416.93 346.98,416.17 348.15,416.12 349.32,416.01 350.49,416.67 351.66,416.64 352.83,417.92 354.00,416.66 355.17,416.88 356.34,415.76 357.51,420.10 358.68,417.65 359.85,419.06 361.02,417.97 362.19,418.73 363.36,416.81 364.53,417.88 365.70,420.06 366.87,415.74 368.04,418.37 369.21,418.95 370.38,417.54 371.55,417.92 372.72,418.48 373.89,412.57 375.06,421.57 376.23,416.09 377.40,416.31 378.57,416.37 379.74,416.90 380.91,417.22 382.08,417.57 383.25,415.46 384.42,419.28 385.59,418.35 386.76,417.87 387.93,416.65 389.10,416.95 390.27,417.66 391.44,417.51 392.61,415.15 393.78,417.87 394.95,420.32 396.12,414.95 397.29,418.16 398.46,417.45 399.63,414.03 400.80,418.58 401.97,415.69 403.14,421.02 404.31,418.67 405.48,416.80 406.65,416.55 407.80,391.60 407.82,417.15 408.99,416.51 409.00,424.00 410.16,418.76 411.33,415.99 412.50,418.00 413.67,422.01 414.84,417.76 416.01,413.00 417.18,414.08 418.35,421.00 419.52,415.79 420.69,416.49 421.86,418.73 423.03,415.73 424.20,415.79 425.37,418.62 426.54,417.12 427.71,418.73 428.88,417.35 430.05,415.98 431.22,416.90 432.39,418.37 433.56,413.97 434.73,416.97 435.90,417.03 437.07,416.84 438.24,416.31 439.41,419.15 440.58,416.97 441.75,415.68 442.92,421.46 444.09,417.41 445.26,417.35 446.43,416.87 447.60,416.54 448.77,416.97 449.94,415.92 451.11,416.14 452.28,417.44 453.45,416.65 454.62,417.17 455.79,417.69 456.96,417.34 458.13,416.95 459.30,418.25 460.47,417.34 461.64,416.71 462.81,417.38 463.98,417.18 465.15,416.40 466.32,416.97 467.49,416.82 468.66,415.71 469.83,416.81 471.00,416.74 472.17,416.64 473.34,415.90 474.51,416.69 475.68,416.88 476.85,416.97 478.02,416.20 479.19,417.29 480.36,416.15 481.53,416.76 482.70,417.70 483.87,416.47 485.04,416.58 486.21,417.55 487.38,416.65 488.55,416.70 489.72,417.02 490.89,417.53 492.06,415.52 493.23,416.37 494.40,416.26 495.57,416.21 496.74,416.35 497.91,416.35 499.08,417.05 500.25,416.32 501.42,416.94 502.59,413.86 503.76,416.41 504.93,416.94 506.10,417.86 507.27,417.05 508.44,416.46 509.61,416.81 510.78,416.29 511.95,417.01 513.12,417.38 514.29,416.34 515.46,416.71 516.63,417.52 517.80,412.84 518.97,420.34 520.14,416.21 521.31,416.33 522.48,416.52 523.65,418.14 524.82,416.58 525.99,416.51 527.16,416.49 528.33,416.72 529.50,417.21 530.67,416.93 531.84,418.05 533.01,416.94 534.18,417.68 535.35,416.98 536.52,417.17 537.69,415.94 538.86,416.73 540.03,416.76 541.20,416.66" fill="none" stroke="#505050" stroke-width="1.0" stroke-linejoin="round" />
<path d="M69.9,480.9L74.1,485.1M69.9,485.1L74.1,480.9M71.1,421.5L75.3,425.7M71.1,425.7L75.3,421.5M72.3,420.8L76.5,425.0M72.3,425.0L76.5,420.8M73.4,420.9L77.6,425.1M73.4,425.1L77.6,420.9M74.6,420.6L78.8,424.8M74.6,424.8L78.8,420.6M75.8,419.8L80.0,424.0M75.8,424.0L80.0,419.8M77.0,420.0L81.2,424.2M77.0,424.2L81.2,420.0M78.1,419.2L82.3,423.4M78.1,423.4L82.3,419.2M79.3,418.9L83.5,423.1M79.3,423.1L83.5,418.9M80.5,419.1L84.7,423.3M80.5,423.3L84.7,419.1M81.6,419.1L85.8,423.3M81.6,423.3L85.8,419.1M82.8,418.4L87.0,422.6M82.8,422.6L87.0,418.4M84.0,418.6L88.2,422.8M84.0,422.8L88.2,418.6M85.1,418.3L89.3,422.5M85.1,422.5L89.3,418.3M86.3,419.1L90.5,423.3M86.3,423.3L90.5,419.1M87.5,417.7L91.7,421.9M87.5,421.9L91.7,417.7M88.7,418.3L92.9,422.5M88.7,422.5L92.9,418.3M89.8,417.7L94.0,421.9M89.8,421.9L94.0,417.7M91.0,417.6L95.2,421.8M91.0,421.8L95.2,417.6M92.2,417.8L96.4,422.0M92.2,422.0L96.4,417.8M93.3,417.8L97.5,422.0M93.3,422.0L97.5,417.8M94.5,417.9L98.7,422.1M94.5,422.1L98.7,417.9M95.7,417.5L99.9,421.7M95.7,421.7L99.9,417.5M96.8,417.1L101.0,421.3M96.8,421.3L101.0,417.1M98.0,417.0L102.2,421.2M98.0,421.2L102.2,417.0M99.2,417.3L103.4,421.5M99.2,421.5L103.4,417.3M100.4,417.2L104.6,421.4M100.4,421.4L104.6,417.2M101.5,417.4L105.7,421.6M101.5,421.6L105.7,417.4M102.7,417.0L106.9,421.2M102.7,421.2L106.9,417.0M103.9,417.1L108.1,421.3M103.9,421.3L108.1,417.1M105.0,417.2L109.2,421.4M105.0,421.4L109.2,417.2M106.2,416.7L110.4,420.9M106.2,420.9L110.4,416.7M107.4,416.0L111.6,420.2M107.4,420.2L111.6,416.0M108.5,416.0L112.7,420.2M108.5,420.2L112.7,416.0M109.7,415.9L113.9,420.1M109.7,420.1L113.9,415.9M110.9,416.9L115.1,421.1M110.9,421.1L115.1,416.9M112.1,416.0L116.3,420.2M112.1,420.2L116.3,416.0M113.2,416.7L117.4,420.9M113.2,420.9L117.4,416.7M114.4,416.5L118.6,420.7M114.4,420.7L118.6,416.5M115.6,416.8L119.8,421.0M115.6,421.0L119.8,416.8M116.7,416.6L120.9,420.8M116.7,420.8L120.9,416.6M117.9,416.1L122.1,420.3M117.9,420.3L122.1,416.1M119.1,416.1L123.3,420.3M119.1,420.3L123.3,416.1M120.2,416.2L124.4,420.4M120.2,420.4L124.4,416.2M121.4,416.2L125.6,420.4M121.4,420.4L125.6,416.2M122.6,415.9L126.8,420.1M122.6,420.1L126.8,415.9M123.8,416.0L128.0,420.2M123.8,420.2L128.0,416.0M124.9,416.6L129.1,420.8M124.9,420.8L129.1,416.6M126.1,415.4L130.3,419.6M126.1,419.6L130.3,415.4M127.3,416.0L131.5,420.2M127.3,420.2L131.5,416.0M128.4,415.6L132.6,419.8M128.4,419.8L132.6,415.6M129.6,416.0L133.8,420.2M129.6,420.2L133.8,416.0M130.8,416.2L135.0,420.4M130.8,420.4L135.0,416.2M131.9,415.8L136.1,420.0M131.9,420.0L136.1,415.8M133.1,416.1L137.3,420.3M133.1,420.3L137.3,416.1M134.3,415.2L138.5,419.4M134.3,419.4L138.5,415.2M135.5,416.1L139.7,420.3M135.5,420.3L139.7,416.1M136.6,415.5L140.8,419.7M136.6,419.7L140.8,415.5M137.8,415.9L142.0,420.1M137.8,420.1L142.0,415.9M139.0,415.7L143.2,419.9M139.0,419.9L143.2,415.7M140.1,414.8L144.3,419.0M140.1,419.0L144.3,414.8M141.3,415.4L145.5,419.6M141.3,419.6L145.5,415.4M142.5,415.7L146.7,419.9M142.5,419.9L146.7,415.7M143.6,416.2L147.8,420.4M143.6,420.4L147.8,416.2M144.8,415.7L149.0,419.9M144.8,419.9L149.0,415.7M146.0,415.7L150.2,419.9M146.0,419.9L150.2,415.7M147.2,415.1L151.4,419.3M147.2,419.3L151.4,415.1M148.3,416.1L152.5,420.3M148.3,420.3L152.5,416.1M149.5,416.2L153.7,420.4M149.5,420.4L153.7,416.2M150.7,415.5L154.9,419.7M150.7,419.7L154.9,415.5M151.8,415.4L156.0,419.6M151.8,419.6L156.0,415.4M153.0,414.9L157.2,419.1M153.0,419.1L157.2,414.9M154.2,415.8L158.4,420.0M154.2,420.0L158.4,415.8M155.3,416.4L159.5,420.6M155.3,420.6L159.5,416.4M156.5,415.7L160.7,419.9M156.5,419.9L160.7,415.7M157.7,415.9L161.9,420.1M157.7,420.1L161.9,415.9M158.9,415.6L163.1,419.8M158.9,419.8L163.1,415.6M160.0,415.1L164.2,419.3M160.0,419.3L164.2,415.1M161.2,415.9L165.4,420.1M161.2,420.1L165.4,415.9M162.4,414.9L166.6,419.1M162.4,419.1L166.6,414.9M163.5,415.3L167.7,419.5M163.5,419.5L167.7,415.3M164.7,415.4L168.9,419.6M164.7,419.6L168.9,415.4M165.9,415.6L170.1,419.8M165.9,419.8L170.1,415.6M167.0,415.5L171.2,419.7M167.0,419.7L171.2,415.5M168.2,415.7L172.4,419.9M168.2,419.9L172.4,415.7M169.4,414.5L173.6,418.7M169.4,418.7L173.6,414.5M170.4,428.3L174.6,432.5M170.4,432.5L174.6,428.3M170.6,413.9L174.8,418.1M170.6,418.1L174.8,413.9M171.7,415.4L175.9,419.6M171.7,419.6L175.9,415.4M172.9,414.5L177.1,418.7M172.9,418.7L177.1,414.5M174.1,413.9L178.3,418.1M174.1,418.1L178.3,413.9M175.2,413.9L179.4,418.1M175.2,418.1L179.4,413.9M176.4,414.7L180.6,418.9M176.4,418.9L180.6,414.7M177.6,413.2L181.8,417.4M177.6,417.4L181.8,413.2M178.7,413.8L182.9,418.0M178.7,418.0L182.9,413.8M179.9,413.5L184.1,417.7M179.9,417.7L184.1,413.5M181.1,415.5L185.3,419.7M181.1,419.7L185.3,415.5M182.3,415.7L186.5,419.9M182.3,419.9L186.5,415.7M183.4,417.5L187.6,421.7M183.4,421.7L187.6,417.5M184.6,413.6L188.8,417.8M184.6,417.8L188.8,413.6M185.8,411.8L190.0,416.0M185.8,416.0L190.0,411.8M186.9,420.3L191.1,424.5M186.9,424.5L191.1,420.3M188.1,415.0L192.3,419.2M188.1,419.2L192.3,415.0M189.3,414.9L193.5,419.1M189.3,419.1L193.5,414.9M190.4,417.1L194.6,421.3M190.4,421.3L194.6,417.1M191.6,414.9L195.8,419.1M191.6,419.1L195.8,414.9M192.8,414.0L197.0,418.2M192.8,418.2L197.0,414.0M194.0,413.8L198.2,418.0M194.0,418.0L198.2,413.8M195.1,415.6L199.3,419.8M195.1,419.8L199.3,415.6M196.3,415.6L200.5,419.8M196.3,419.8L200.5,415.6M197.5,413.7L201.7,417.9M197.5,417.9L201.7,413.7M198.2,390.9L202.4,395.1M198.2,395.1L202.4,390.9M198.6,414.2L202.8,418.4M198.6,418.4L202.8,414.2M199.4,423.9L203.6,428.1M199.4,428.1L203.6,423.9M199.8,415.8L204.0,420.0M199.8,420.0L204.0,415.8M201.0,415.9L205.2,420.1M201.0,420.1L205.2,415.9M202.1,412.2L206.3,416.4M202.1,416.4L206.3,412.2M203.3,415.9L207.5,420.1M203.3,420.1L207.5,415.9M204.5,415.9L208.7,420.1M204.5,420.1L208.7,415.9M205.7,413.3L209.9,417.5M205.7,417.5L209.9,413.3M206.8,414.9L211.0,419.1M206.8,419.1L211.0,414.9M208.0,415.7L212.2,419.9M208.0,419.9L212.2,415.7M209.2,414.6L213.4,418.8M209.2,418.8L213.4,414.6M210.3,412.9L214.5,417.1M210.3,417.1L214.5,412.9M211.5,412.7L215.7,416.9M211.5,416.9L215.7,412.7M212.7,416.1L216.9,420.3M212.7,420.3L216.9,416.1M213.8,417.0L218.0,421.2M213.8,421.2L218.0,417.0M215.0,412.8L219.2,417.0M215.0,417.0L219.2,412.8M216.2,418.1L220.4,422.3M216.2,422.3L220.4,418.1M217.4,414.0L221.6,418.2M217.4,418.2L221.6,414.0M218.5,416.3L222.7,420.5M218.5,420.5L222.7,416.3M219.7,416.6L223.9,420.8M219.7,420.8L223.9,416.6M220.9,416.3L225.1,420.5M220.9,420.5L225.1,416.3M222.0,415.4L226.2,419.6M222.0,419.6L226.2,415.4M223.2,413.9L227.4,418.1M223.2,418.1L227.4,413.9M224.4,415.9L228.6,420.1M224.4,420.1L228.6,415.9M225.5,414.4L229.7,418.6M225.5,418.6L229.7,414.4M226.7,409.2L230.9,413.4M226.7,413.4L230.9,409.2M227.9,421.2L232.1,425.4M227.9,425.4L232.1,421.2M229.1,416.0L233.3,420.2M229.1,420.2L233.3,416.0M230.2,417.2L234.4,421.4M230.2,421.4L234.4,417.2M231.4,414.2L235.6,418.4M231.4,418.4L235.6,414.2M232.6,416.8L236.8,421.0M232.6,421.0L236.8,416.8M233.7,416.9L237.9,421.1M233.7,421.1L237.9,416.9M234.9,408.7L239.1,412.9M234.9,412.9L239.1,408.7M236.1,421.7L240.3,425.9M236.1,425.9L240.3,421.7M237.2,413.9L241.4,418.1M237.2,418.1L241.4,413.9M238.4,415.0L242.6,419.2M238.4,419.2L242.6,415.0M239.6,412.8L243.8,417.0M239.6,417.0L243.8,412.8M240.8,413.3L245.0,417.5M240.8,417.5L245.0,413.3M241.9,415.3L246.1,419.5M241.9,419.5L246.1,415.3M243.1,414.1L247.3,418.3M243.1,418.3L247.3,414.1M244.3,415.0L248.5,419.2M244.3,419.2L248.5,415.0M245.4,415.1L249.6,419.3M245.4,419.3L249.6,415.1M246.6,417.3L250.8,421.5M246.6,421.5L250.8,417.3M247.8,416.6L252.0,420.8M247.8,420.8L252.0,416.6M248.9,415.1L253.1,419.3M248.9,419.3L253.1,415.1M250.1,416.5L254.3,420.7M250.1,420.7L254.3,416.5M251.3,409.7L255.5,413.9M251.3,413.9L255.5,409.7M252.5,414.8L256.7,419.0M252.5,419.0L256.7,414.8M253.6,416.2L257.8,420.4M253.6,420.4L257.8,416.2M254.8,413.8L259.0,418.0M254.8,418.0L259.0,413.8M256.0,414.9L260.2,419.1M256.0,419.1L260.2,414.9M256.9,398.9L261.1,403.1M256.9,403.1L261.1,398.9M257.1,413.7L261.3,417.9M257.1,417.9L261.3,413.7M258.3,415.3L262.5,419.5M258.3,419.5L262.5,415.3M258.4,425.9L262.6,430.1M258.4,430.1L262.6,425.9M259.5,416.9L263.7,421.1M259.5,421.1L263.7,416.9M260.6,414.3L264.8,418.5M260.6,418.5L264.8,414.3M261.8,415.4L266.0,419.6M261.8,419.6L266.0,415.4M263.0,414.2L267.2,418.4M263.0,418.4L267.2,414.2M264.2,413.9L268.4,418.1M264.2,418.1L268.4,413.9M265.3,413.8L269.5,418.0M265.3,418.0L269.5,413.8M266.5,416.7L270.7,420.9M266.5,420.9L270.7,416.7M267.7,417.7L271.9,421.9M267.7,421.9L271.9,417.7M268.8,415.7L273.0,419.9M268.8,419.9L273.0,415.7M270.0,414.3L274.2,418.5M270.0,418.5L274.2,414.3M271.2,415.9L275.4,420.1M271.2,420.1L275.4,415.9M272.3,414.8L276.5,419.0M272.3,419.0L276.5,414.8M273.5,416.0L277.7,420.2M273.5,420.2L277.7,416.0M274.7,415.4L278.9,419.6M274.7,419.6L278.9,415.4M275.9,415.4L280.1,419.6M275.9,419.6L280.1,415.4M277.0,415.8L281.2,420.0M277.0,420.0L281.2,415.8M278.2,414.5L282.4,418.7M278.2,418.7L282.4,414.5M279.4,414.7L283.6,418.9M279.4,418.9L283.6,414.7M280.5,413.2L284.7,417.4M280.5,417.4L284.7,413.2M281.7,414.6L285.9,418.8M281.7,418.8L285.9,414.6M282.9,413.5L287.1,417.7M282.9,417.7L287.1,413.5M284.0,415.0L288.2,419.2M284.0,419.2L288.2,415.0M285.2,414.1L289.4,418.3M285.2,418.3L289.4,414.1M286.4,415.2L290.6,419.4M286.4,419.4L290.6,415.2M287.6,415.6L291.8,419.8M287.6,419.8L291.8,415.6M288.7,413.5L292.9,417.7M288.7,417.7L292.9,413.5M289.9,414.2L294.1,418.4M289.9,418.4L294.1,414.2M291.1,414.1L295.3,418.3M291.1,418.3L295.3,414.1M292.2,415.9L296.4,420.1M292.2,420.1L296.4,415.9M293.4,417.0L297.6,421.2M293.4,421.2L297.6,417.0M294.6,416.0L298.8,420.2M294.6,420.2L298.8,416.0M295.7,414.7L299.9,418.9M295.7,418.9L299.9,414.7M296.2,382.7L300.4,386.9M296.2,386.9L300.4,382.7M296.9,416.7L301.1,420.9M296.9,420.9L301.1,416.7M297.4,420.4L301.6,424.6M297.4,424.6L301.6,420.4M298.1,413.4L302.3,417.6M298.1,417.6L302.3,413.4M299.3,416.7L303.5,420.9M299.3,420.9L303.5,416.7M300.4,420.6L304.6,424.8M300.4,424.8L304.6,420.6M301.6,412.0L305.8,416.2M301.6,416.2L305.8,412.0M302.8,418.0L307.0,422.2M302.8,422.2L307.0,418.0M303.9,416.8L308.1,421.0M303.9,421.0L308.1,416.8M305.1,413.9L309.3,418.1M305.1,418.1L309.3,413.9M306.3,415.3L310.5,419.5M306.3,419.5L310.5,415.3M307.4,414.8L311.6,419.0M307.4,419.0L311.6,414.8M308.6,415.2L312.8,419.4M308.6,419.4L312.8,415.2M309.8,413.4L314.0,417.6M309.8,417.6L314.0,413.4M311.0,410.6L315.2,414.8M311.0,414.8L315.2,410.6M312.1,419.6L316.3,423.8M312.1,423.8L316.3,419.6M313.3,415.3L317.5,419.5M313.3,419.5L317.5,415.3M314.5,416.4L318.7,420.6M314.5,420.6L318.7,416.4M315.6,415.1L319.8,419.3M315.6,419.3L319.8,415.1M316.8,417.6L321.0,421.8M316.8,421.8L321.0,417.6M318.0,414.3L322.2,418.5M318.0,418.5L322.2,414.3M319.1,415.3L323.3,419.5M319.1,419.5L323.3,415.3M320.3,412.9L324.5,417.1M320.3,417.1L324.5,412.9M321.5,413.7L325.7,417.9M321.5,417.9L325.7,413.7M322.7,416.5L326.9,420.7M322.7,420.7L326.9,416.5M323.8,414.0L328.0,418.2M323.8,418.2L328.0,414.0M325.0,415.6L329.2,419.8M325.0,419.8L329.2,415.6M326.2,415.0L330.4,419.2M326.2,419.2L330.4,415.0M327.3,413.9L331.5,418.1M327.3,418.1L331.5,413.9M328.5,412.0L332.7,416.2M328.5,416.2L332.7,412.0M329.7,414.5L333.9,418.7M329.7,418.7L333.9,414.5M330.8,414.5L335.0,418.7M330.8,418.7L335.0,414.5M332.0,415.9L336.2,420.1M332.0,420.1L336.2,415.9M333.2,415.8L337.4,420.0M333.2,420.0L337.4,415.8M334.4,414.4L338.6,418.6M334.4,418.6L338.6,414.4M335.5,414.0L339.7,418.2M335.5,418.2L339.7,414.0M336.7,415.3L340.9,419.5M336.7,419.5L340.9,415.3M337.9,414.9L342.1,419.1M337.9,419.1L342.1,414.9M339.0,416.2L343.2,420.4M339.0,420.4L343.2,416.2M340.2,417.9L344.4,422.1M340.2,422.1L344.4,417.9M341.4,415.9L345.6,420.1M341.4,420.1L345.6,415.9M342.5,415.0L346.7,419.2M342.5,419.2L346.7,415.0M343.7,414.8L347.9,419.0M343.7,419.0L347.9,414.8M344.9,414.1L349.1,418.3M344.9,418.3L349.1,414.1M346.1,414.0L350.3,418.2M346.1,418.2L350.3,414.0M347.2,413.9L351.4,418.1M347.2,418.1L351.4,413.9M348.4,414.6L352.6,418.8M348.4,418.8L352.6,414.6M349.6,414.5L353.8,418.7M349.6,418.7L353.8,414.5M350.7,415.8L354.9,420.0M350.7,420.0L354.9,415.8M351.9,414.6L356.1,418.8M351.9,418.8L356.1,414.6M353.1,414.8L357.3,419.0M353.1,419.0L357.3,414.8M354.2,413.7L358.4,417.9M354.2,417.9L358.4,413.7M355.4,418.0L359.6,422.2M355.4,422.2L359.6,418.0M356.6,415.6L360.8,419.8M356.6,419.8L360.8,415.6M357.8,417.0L362.0,421.2M357.8,421.2L362.0,417.0M358.9,415.9L363.1,420.1M358.9,420.1L363.1,415.9M360.1,416.6L364.3,420.8M360.1,420.8L364.3,416.6M361.3,414.7L365.5,418.9M361.3,418.9L365.5,414.7M362.4,415.8L366.6,420.0M362.4,420.0L366.6,415.8M363.6,418.0L367.8,422.2M363.6,422.2L367.8,418.0M364.8,413.6L369.0,417.8M364.8,417.8L369.0,413.6M365.9,416.3L370.1,420.5M365.9,420.5L370.1,416.3M367.1,416.8L371.3,421.0M367.1,421.0L371.3,416.8M368.3,415.4L372.5,419.6M368.3,419.6L372.5,415.4M369.5,415.8L373.7,420.0M369.5,420.0L373.7,415.8M370.6,416.4L374.8,420.6M370.6,420.6L374.8,416.4M371.8,410.5L376.0,414.7M371.8,414.7L376.0,410.5M373.0,419.5L377.2,423.7M373.0,423.7L377.2,419.5M374.1,414.0L378.3,418.2M374.1,418.2L378.3,414.0M375.3,414.2L379.5,418.4M375.3,418.4L379.5,414.2M376.5,414.3L380.7,418.5M376.5,418.5L380.7,414.3M377.6,414.8L381.8,419.0M377.6,419.0L381.8,414.8M378.8,415.1L383.0,419.3M378.8,419.3L383.0,415.1M380.0,415.5L384.2,419.7M380.0,419.7L384.2,415.5M381.2,413.4L385.4,417.6M381.2,417.6L385.4,413.4M382.3,417.2L386.5,421.4M382.3,421.4L386.5,417.2M383.5,416.3L387.7,420.5M383.5,420.5L387.7,416.3M384.7,415.8L388.9,420.0M384.7,420.0L388.9,415.8M385.8,414.5L390.0,418.7M385.8,418.7L390.0,414.5M387.0,414.8L391.2,419.0M387.0,419.0L391.2,414.8M388.2,415.6L392.4,419.8M388.2,419.8L392.4,415.6M389.3,415.4L393.5,419.6M389.3,419.6L393.5,415.4M390.5,413.0L394.7,417.2M390.5,417.2L394.7,413.0M391.7,415.8L395.9,420.0M391.7,420.0L395.9,415.8M392.9,418.2L397.1,422.4M392.9,422.4L397.1,418.2M394.0,412.9L398.2,417.1M394.0,417.1L398.2,412.9M395.2,416.1L399.4,420.3M395.2,420.3L399.4,416.1M396.4,415.3L400.6,419.5M396.4,419.5L400.6,415.3M397.5,411.9L401.7,416.1M397.5,416.1L401.7,411.9M398.7,416.5L402.9,420.7M398.7,420.7L402.9,416.5M399.9,413.6L404.1,417.8M399.9,417.8L404.1,413.6M401.0,418.9L405.2,423.1M401.0,423.1L405.2,418.9M402.2,416.6L406.4,420.8M402.2,420.8L406.4,416.6M403.4,414.7L407.6,418.9M403.4,418.9L407.6,414.7M404.6,414.4L408.8,418.6M404.6,418.6L408.8,414.4M405.7,389.5L409.9,393.7M405.7,393.7L409.9,389.5M405.7,415.0L409.9,419.2M405.7,419.2L409.9,415.0M406.9,414.4L411.1,418.6M406.9,418.6L411.1,414.4M406.9,421.9L411.1,426.1M406.9,426.1L411.1,421.9M408.1,416.7L412.3,420.9M408.1,420.9L412.3,416.7M409.2,413.9L413.4,418.1M409.2,418.1L413.4,413.9M410.4,415.9L414.6,420.1M410.4,420.1L414.6,415.9M411.6,419.9L415.8,424.1M411.6,424.1L415.8,419.9M412.7,415.7L416.9,419.9M412.7,419.9L416.9,415.7M413.9,410.9L418.1,415.1M413.9,415.1L418.1,410.9M415.1,412.0L419.3,416.2M415.1,416.2L419.3,412.0M416.3,418.9L420.5,423.1M416.3,423.1L420.5,418.9M417.4,413.7L421.6,417.9M417.4,417.9L421.6,413.7M418.6,414.4L422.8,418.6M418.6,418.6L422.8,414.4M419.8,416.6L424.0,420.8M419.8,420.8L424.0,416.6M420.9,413.6L425.1,417.8M420.9,417.8L425.1,413.6M422.1,413.7L426.3,417.9M422.1,417.9L426.3,413.7M423.3,416.5L427.5,420.7M423.3,420.7L427.5,416.5M424.4,415.0L428.6,419.2M424.4,419.2L428.6,415.0M425.6,416.6L429.8,420.8M425.6,420.8L429.8,416.6M426.8,415.2L431.0,419.4M426.8,419.4L431.0,415.2M428.0,413.9L432.2,418.1M428.0,418.1L432.2,413.9M429.1,414.8L433.3,419.0M429.1,419.0L433.3,414.8M430.3,416.3L434.5,420.5M430.3,420.5L434.5,416.3M431.5,411.9L435.7,416.1M431.5,416.1L435.7,411.9M432.6,414.9L436.8,419.1M432.6,419.1L436.8,414.9M433.8,414.9L438.0,419.1M433.8,419.1L438.0,414.9M435.0,414.7L439.2,418.9M435.0,418.9L439.2,414.7M436.1,414.2L440.3,418.4M436.1,418.4L440.3,414.2M437.3,417.0L441.5,421.2M437.3,421.2L441.5,417.0M438.5,414.9L442.7,419.1M438.5,419.1L442.7,414.9M439.7,413.6L443.9,417.8M439.7,417.8L443.9,413.6M440.8,419.4L445.0,423.6M440.8,423.6L445.0,419.4M442.0,415.3L446.2,419.5M442.0,419.5L446.2,415.3M443.2,415.3L447.4,419.5M443.2,419.5L447.4,415.3M444.3,414.8L448.5,419.0M444.3,419.0L448.5,414.8M445.5,414.4L449.7,418.6M445.5,418.6L449.7,414.4M446.7,414.9L450.9,419.1M446.7,419.1L450.9,414.9M447.8,413.8L452.0,418.0M447.8,418.0L452.0,413.8M449.0,414.0L453.2,418.2M449.0,418.2L453.2,414.0M450.2,415.3L454.4,419.5M450.2,419.5L454.4,415.3M451.4,414.5L455.6,418.7M451.4,418.7L455.6,414.5M452.5,415.1L456.7,419.3M452.5,419.3L456.7,415.1M453.7,415.6L457.9,419.8M453.7,419.8L457.9,415.6M454.9,415.2L459.1,419.4M454.9,419.4L459.1,415.2M456.0,414.8L460.2,419.0M456.0,419.0L460.2,414.8M457.2,416.1L461.4,420.3M457.2,420.3L461.4,416.1M458.4,415.2L462.6,419.4M458.4,419.4L462.6,415.2M459.5,414.6L463.7,418.8M459.5,418.8L463.7,414.6M460.7,415.3L464.9,419.5M460.7,419.5L464.9,415.3M461.9,415.1L466.1,419.3M461.9,419.3L466.1,415.1M463.1,414.3L467.3,418.5M463.1,418.5L467.3,414.3M464.2,414.9L468.4,419.1M464.2,419.1L468.4,414.9M465.4,414.7L469.6,418.9M465.4,418.9L469.6,414.7M466.6,413.6L470.8,417.8M466.6,417.8L470.8,413.6M467.7,414.7L471.9,418.9M467.7,418.9L471.9,414.7M468.9,414.6L473.1,418.8M468.9,418.8L473.1,414.6M470.1,414.5L474.3,418.7M470.1,418.7L474.3,414.5M471.2,413.8L475.4,418.0M471.2,418.0L475.4,413.8M472.4,414.6L476.6,418.8M472.4,418.8L476.6,414.6M473.6,414.8L477.8,419.0M473.6,419.0L477.8,414.8M474.8,414.9L479.0,419.1M474.8,419.1L479.0,414.9M475.9,414.1L480.1,418.3M475.9,418.3L480.1,414.1M477.1,415.2L481.3,419.4M477.1,419.4L481.3,415.2M478.3,414.0L482.5,418.2M478.3,418.2L482.5,414.0M479.4,414.7L483.6,418.9M479.4,418.9L483.6,414.7M480.6,415.6L484.8,419.8M480.6,419.8L484.8,415.6M481.8,414.4L486.0,418.6M481.8,418.6L486.0,414.4M482.9,414.5L487.1,418.7M482.9,418.7L487.1,414.5M484.1,415.5L488.3,419.7M484.1,419.7L488.3,415.5M485.3,414.6L489.5,418.8M485.3,418.8L489.5,414.6M486.5,414.6L490.7,418.8M486.5,418.8L490.7,414.6M487.6,414.9L491.8,419.1M487.6,419.1L491.8,414.9M488.8,415.4L493.0,419.6M488.8,419.6L493.0,415.4M490.0,413.4L494.2,417.6M490.0,417.6L494.2,413.4M491.1,414.3L495.3,418.5M491.1,418.5L495.3,414.3M492.3,414.2L496.5,418.4M492.3,418.4L496.5,414.2M493.5,414.1L497.7,418.3M493.5,418.3L497.7,414.1M494.6,414.2L498.8,418.4M494.6,418.4L498.8,414.2M495.8,414.3L500.0,418.5M495.8,418.5L500.0,414.3M497.0,415.0L501.2,419.2M497.0,419.2L501.2,415.0M498.2,414.2L502.4,418.4M498.2,418.4L502.4,414.2M499.3,414.8L503.5,419.0M499.3,419.0L503.5,414.8M500.5,411.8L504.7,416.0M500.5,416.0L504.7,411.8M501.7,414.3L505.9,418.5M501.7,418.5L505.9,414.3M502.8,414.8L507.0,419.0M502.8,419.0L507.0,414.8M504.0,415.8L508.2,420.0M504.0,420.0L508.2,415.8M505.2,415.0L509.4,419.2M505.2,419.2L509.4,415.0M506.3,414.4L510.5,418.6M506.3,418.6L510.5,414.4M507.5,414.7L511.7,418.9M507.5,418.9L511.7,414.7M508.7,414.2L512.9,418.4M508.7,418.4L512.9,414.2M509.9,414.9L514.1,419.1M509.9,419.1L514.1,414.9M511.0,415.3L515.2,419.5M511.0,419.5L515.2,415.3M512.2,414.2L516.4,418.4M512.2,418.4L516.4,414.2M513.4,414.6L517.6,418.8M513.4,418.8L517.6,414.6M514.5,415.4L518.7,419.6M514.5,419.6L518.7,415.4M515.7,410.7L519.9,414.9M515.7,414.9L519.9,410.7M516.9,418.2L521.1,422.4M516.9,422.4L521.1,418.2M518.0,414.1L522.2,418.3M518.0,418.3L522.2,414.1M519.2,414.2L523.4,418.4M519.2,418.4L523.4,414.2M520.4,414.4L524.6,418.6M520.4,418.6L524.6,414.4M521.6,416.0L525.8,420.2M521.6,420.2L525.8,416.0M522.7,414.5L526.9,418.7M522.7,418.7L526.9,414.5M523.9,414.4L528.1,418.6M523.9,418.6L528.1,414.4M525.1,414.4L529.3,418.6M525.1,418.6L529.3,414.4M526.2,414.6L530.4,418.8M526.2,418.8L530.4,414.6M527.4,415.1L531.6,419.3M527.4,419.3L531.6,415.1M528.6,414.8L532.8,419.0M528.6,419.0L532.8,414.8M529.7,416.0L533.9,420.2M529.7,420.2L533.9,416.0M530.9,414.8L535.1,419.0M530.9,419.0L535.1,414.8M532.1,415.6L536.3,419.8M532.1,419.8L536.3,415.6M533.3,414.9L537.5,419.1M533.3,419.1L537.5,414.9M534.4,415.1L538.6,419.3M534.4,419.3L538.6,415.1M535.6,413.8L539.8,418.0M535.6,418.0L539.8,413.8M536.8,414.6L541.0,418.8M536.8,418.8L541.0,414.6M537.9,414.7L542.1,418.9M537.9,418.9L542.1,414.7M539.1,414.6L543.3,418.8M539.1,418.8L543.3,414.6" stroke="#5a5a5a" stroke-width="0.75" fill="none"/>
<text x="300.60" y="464.70" font-size="11.8" fill="#595959" font-weight="bold" text-anchor="start" textLength="123.2" lengthAdjust="spacingAndGlyphs">Discharge capacity for n</text>
<text x="423.50" y="461.00" font-size="7.5" fill="#595959" font-weight="bold" text-anchor="start" textLength="7.6" lengthAdjust="spacingAndGlyphs">th</text>
<text x="433.20" y="464.70" font-size="11.8" fill="#595959" font-weight="bold" text-anchor="start" textLength="23.2" lengthAdjust="spacingAndGlyphs">cycle</text>
<line x1="301" y1="466.9" x2="457" y2="466.9" stroke="#595959" stroke-width="1"/>
<text x="307.80" y="479.00" font-size="11.8" fill="#595959" font-weight="bold" text-anchor="start" textLength="108.8" lengthAdjust="spacingAndGlyphs">Charge capacity for n</text>
<text x="416.40" y="475.30" font-size="7.5" fill="#595959" font-weight="bold" text-anchor="start" textLength="7.4" lengthAdjust="spacingAndGlyphs">th</text>
<text x="427.10" y="479.00" font-size="11.8" fill="#595959" font-weight="bold" text-anchor="start" textLength="23.4" lengthAdjust="spacingAndGlyphs">cycle</text>
<text x="306.70" y="536.30" font-size="15.5" text-anchor="start" fill="#000" font-weight="normal" >d)</text>
<text x="0" y="0" font-size="13.5" text-anchor="middle" transform="translate(11.9,608) rotate(-90)">Capacity w.r.t cycle 1 / %</text>
<text x="57.50" y="677.10" font-size="14" text-anchor="end" fill="#000" font-weight="normal" >80%</text>
<text x="57.50" y="650.90" font-size="14" text-anchor="end" fill="#000" font-weight="normal" >85%</text>
<text x="57.50" y="624.70" font-size="14" text-anchor="end" fill="#000" font-weight="normal" >90%</text>
<text x="57.50" y="598.50" font-size="14" text-anchor="end" fill="#000" font-weight="normal" >95%</text>
<text x="57.50" y="572.30" font-size="14" text-anchor="end" fill="#000" font-weight="normal" >100%</text>
<text x="57.50" y="546.10" font-size="14" text-anchor="end" fill="#000" font-weight="normal" >105%</text>
<line x1="68.5" y1="541.5" x2="68.5" y2="672.5" stroke="#d9d9d9" stroke-width="1"/>
<line x1="68" y1="672.5" x2="548" y2="672.5" stroke="#d9d9d9" stroke-width="1"/>
<polyline points="70.00,566.95 70.90,568.58 71.80,568.92 72.70,569.62 73.60,570.39 74.50,571.12 75.40,572.03 76.30,572.24 76.90,572.82 77.20,573.38 78.10,573.93 79.00,574.35 79.90,574.88 80.80,575.39 81.70,576.21 82.60,577.17 83.50,577.08 84.40,578.44 85.30,578.82 86.20,579.02 87.10,579.98 87.80,579.76 88.00,579.78 88.90,580.36 89.80,581.07 90.70,581.54 91.60,581.93 92.50,582.56 93.40,582.33 94.30,583.57 95.20,583.44 96.10,584.11 97.00,584.63 97.90,584.86 98.70,585.19 98.80,585.33 99.70,585.95 100.60,586.44 101.50,586.75 102.40,586.59 103.30,586.97 104.20,587.24 105.10,587.97 106.00,587.53 106.90,588.83 107.80,588.63 108.70,588.85 109.60,589.50 109.60,589.71 110.50,589.80 111.40,590.32 112.30,590.35 113.20,590.98 114.10,591.28 115.00,591.18 115.90,591.94 116.80,591.86 117.70,592.14 118.60,592.14 119.50,592.63 120.40,593.26 121.30,592.93 122.20,593.82 123.10,594.03 124.00,594.31 124.90,593.87 125.80,594.80 126.00,595.09 126.70,594.78 127.60,595.17 128.50,594.57 129.40,595.63 130.30,595.37 131.20,595.97 132.10,595.29 133.00,596.19 133.90,596.05 134.80,596.50 135.70,596.12 136.60,596.35 137.50,597.35 138.40,596.57 139.30,596.74 140.20,597.01 141.10,596.93 142.00,597.73 142.90,598.03 143.80,597.44 144.70,597.27 145.60,598.28 146.50,598.40 147.40,598.45 148.30,598.69 149.20,598.23 150.10,598.57 151.00,598.35 151.90,598.48 152.80,599.34 153.70,598.98 154.60,600.00 155.50,599.48 156.40,599.41 157.30,599.98 158.20,600.42 159.10,600.16 160.00,599.79 160.90,600.40 161.80,600.85 162.70,600.42 163.60,600.48 164.50,601.15 165.40,601.03 166.30,600.80 167.20,601.15 168.10,601.18 169.00,601.63 169.90,601.72 170.00,602.05 170.80,603.32 171.70,604.22 172.50,606.22 172.60,606.40 173.50,606.50 174.40,606.90 175.30,606.66 176.20,606.78 177.10,607.58 178.00,607.21 178.90,607.12 179.80,608.31 180.70,608.02 181.60,608.38 182.50,608.28 183.40,608.54 184.30,608.83 185.20,609.30 186.10,609.75 187.00,609.19 187.90,610.34 188.80,609.99 189.70,610.26 190.60,611.02 191.50,611.02 192.40,610.82 193.30,612.07 194.20,611.49 195.10,612.06 196.00,612.28 196.90,612.88 197.80,612.55 198.70,613.22 199.00,612.78 199.60,610.70 200.00,608.37 200.50,608.68 201.40,609.70 202.30,609.57 203.20,609.85 204.10,610.83 205.00,610.61 205.00,610.26 205.90,610.95 206.80,610.60 207.70,611.51 208.60,611.76 209.50,611.45 210.40,611.66 211.30,612.13 212.20,612.30 213.10,612.23 214.00,612.92 214.90,612.36 215.00,612.87 215.80,612.97 216.70,613.12 217.60,613.40 218.50,613.05 219.40,613.70 220.30,613.58 221.20,613.55 222.10,613.44 223.00,613.61 223.90,614.18 224.80,613.89 225.70,614.30 226.60,614.71 227.50,614.81 228.40,615.08 229.30,614.63 230.00,612.47 230.20,615.14 231.10,615.10 232.00,615.51 232.90,615.34 233.80,615.87 234.70,615.93 235.60,616.06 236.50,616.16 237.40,614.30 238.30,616.42 239.20,616.59 240.10,616.98 241.00,616.70 241.90,617.54 242.80,617.16 243.70,617.65 244.60,617.50 245.00,617.53 245.50,618.25 246.40,617.62 247.30,617.40 248.20,617.64 249.10,617.83 250.00,618.64 250.90,618.13 251.80,618.41 252.70,617.90 253.60,618.38 254.50,618.55 255.40,618.96 256.30,618.28 257.20,618.74 258.10,618.72 259.00,615.39 259.00,618.69 259.90,618.73 260.80,618.23 261.70,619.21 262.60,619.31 263.50,619.13 264.40,618.97 265.30,619.93 266.20,619.67 267.10,620.01 268.00,620.24 268.90,619.77 269.80,620.28 270.70,620.08 271.60,620.24 272.50,620.35 273.40,620.49 274.30,620.93 275.20,620.75 276.10,620.78 277.00,620.85 277.90,621.15 278.80,620.89 279.70,621.12 280.60,621.36 281.50,621.32 282.40,621.57 283.30,621.53 284.20,622.43 285.10,622.34 286.00,622.18 286.90,622.14 287.80,622.93 288.70,622.48 289.60,622.47 290.50,622.70 291.40,622.81 292.30,623.25 293.20,622.94 294.10,623.68 295.00,622.90 295.90,623.49 296.80,623.09 297.70,624.05 298.50,623.50 298.60,622.99 299.50,617.98 299.50,618.08 300.40,617.67 301.30,618.21 302.20,618.20 303.10,618.97 304.00,619.20 304.90,619.44 305.80,619.64 306.70,620.04 307.60,620.24 308.50,620.93 309.40,621.53 310.30,620.80 311.20,621.65 312.10,621.87 313.00,622.45 313.00,622.01 313.90,622.40 314.80,622.27 315.70,622.93 316.60,622.89 317.50,622.95 318.40,623.25 319.30,623.21 320.20,622.96 321.10,623.74 322.00,623.79 322.90,623.80 323.80,624.28 324.70,624.49 325.60,623.94 326.50,624.18 327.40,625.01 328.30,625.12 329.20,624.61 330.10,624.62 331.00,624.92 331.90,625.10 332.80,624.92 333.70,625.54 334.60,625.29 335.50,625.45 336.40,626.23 337.30,625.89 338.20,626.22 339.10,626.57 340.00,626.76 340.90,626.56 341.80,626.81 342.70,626.69 343.60,627.61 344.50,627.42 345.00,626.97 345.40,627.33 346.30,627.59 347.20,627.58 348.10,628.03 349.00,627.95 349.90,627.43 350.80,627.62 351.70,627.32 352.60,627.83 353.50,627.86 354.40,628.68 355.30,627.95 356.20,627.34 357.10,627.82 358.00,628.11 358.90,627.76 359.80,627.93 360.00,628.09 360.70,628.39 361.60,628.35 362.50,628.24 363.40,628.85 364.30,628.56 365.20,628.69 366.10,628.53 367.00,628.82 367.90,629.36 368.80,628.79 369.70,629.36 370.60,629.71 371.50,629.49 372.40,629.79 373.30,629.49 374.20,630.33 375.10,630.38 376.00,630.23 376.90,629.74 377.80,630.06 378.00,628.69 378.70,631.02 379.60,630.72 380.50,631.14 381.40,630.71 382.30,630.97 383.20,631.16 384.10,631.41 385.00,630.96 385.90,631.83 386.80,632.08 387.70,631.47 388.60,631.54 389.50,632.18 390.40,632.01 391.30,631.62 392.20,632.71 393.10,632.64 394.00,632.58 394.90,633.49 395.80,633.03 396.70,632.89 397.60,633.28 398.50,633.07 399.40,633.28 400.00,633.72 400.30,633.47 401.20,633.61 402.10,634.35 403.00,634.22 403.90,634.31 404.80,634.33 405.00,634.35 405.70,634.64 406.60,634.19 407.50,634.76 408.40,633.91 409.30,634.12 410.20,633.79 410.50,634.10 411.10,632.38 411.50,631.34 412.00,630.74 412.90,631.01 413.80,630.98 414.70,630.93 415.60,630.87 416.50,631.32 417.40,630.85 418.30,631.48 419.00,631.51 419.20,631.46 420.10,632.04 421.00,632.62 421.90,634.28 422.00,633.40 422.80,634.34 423.70,634.14 424.60,633.93 425.50,633.77 426.40,634.52 427.30,634.80 428.20,634.09 429.10,634.36 430.00,634.85 430.90,634.72 431.80,635.30 432.70,634.61 433.60,635.03 434.50,634.57 435.40,635.66 436.30,634.89 437.20,634.53 438.10,635.24 439.00,635.32 439.90,636.02 440.80,635.42 441.70,635.60 442.60,635.87 443.50,636.25 444.40,635.83 445.30,636.25 446.00,636.16 446.20,636.08 447.10,636.94 448.00,637.68 448.90,638.14 449.00,638.86 449.80,638.12 450.70,638.93 451.60,638.90 452.50,638.63 453.40,638.47 454.30,638.67 455.20,638.92 456.10,639.05 457.00,638.95 457.90,639.20 458.80,638.78 459.70,639.06 460.00,638.53 460.60,639.27 461.50,639.15 462.40,639.04 463.30,639.58 464.20,639.50 465.10,638.51 466.00,639.43 466.90,639.05 467.80,639.87 468.70,640.36 469.60,639.52 470.50,639.76 471.40,639.72 472.30,639.97 473.20,640.12 474.10,640.37 475.00,639.75 475.90,640.58 476.80,639.90 477.70,640.32 478.60,640.65 479.50,640.58 480.40,639.15 481.30,640.28 482.20,640.42 483.10,640.60 484.00,641.02 484.90,640.36 485.80,640.95 486.70,641.05 487.60,641.10 488.50,641.13 489.40,641.51 490.30,641.27 491.20,641.44 492.10,641.42 493.00,641.85 493.90,640.80 494.80,641.82 495.70,641.42 496.60,641.48 497.50,641.33 498.40,641.13 499.30,641.64 500.00,641.59 500.20,641.96 501.10,641.43 502.00,642.35 502.90,642.06 503.80,641.96 504.70,641.88 505.60,641.91 506.50,641.86 507.40,642.09 508.30,642.31 509.20,642.31 510.10,642.00 511.00,642.40 511.90,642.27 512.80,642.64 513.70,643.20 514.60,642.89 515.50,642.66 516.40,642.32 517.30,642.44 518.20,642.42 519.10,643.20 520.00,641.60 520.90,643.11 521.80,642.96 522.70,643.23 523.60,643.68 524.50,643.11 525.40,643.26 526.30,643.18 527.20,643.74 528.10,643.23 529.00,643.25 529.90,643.23 530.80,643.28 531.70,643.90 532.60,644.58 533.50,643.57 534.40,644.21 535.30,644.05 536.20,643.70 537.10,644.01 538.00,644.07 538.90,643.99 539.80,644.83 540.70,643.74 541.60,644.48 542.50,644.52 543.40,644.30 544.30,644.58 545.20,644.85 546.10,644.69 547.00,644.83" fill="none" stroke="#e8333f" stroke-width="1.5" stroke-linejoin="round" />
<polyline points="70.00,567.81 70.50,581.19 70.90,582.69 71.80,583.93 72.70,584.53 73.60,585.54 74.50,585.82 75.40,587.20 76.30,587.99 76.90,588.72 77.20,589.36 78.10,589.32 79.00,590.02 79.90,589.98 80.80,591.00 81.70,591.57 82.60,591.83 83.50,592.32 84.40,593.59 85.30,593.16 86.20,593.70 87.10,594.27 87.80,595.26 88.00,595.62 88.90,595.49 89.80,595.58 90.70,596.08 91.60,596.93 92.50,596.74 93.40,597.85 94.30,598.25 95.20,598.25 96.10,598.83 97.00,599.26 97.90,599.91 98.70,599.48 98.80,600.19 99.70,600.04 100.60,600.23 101.50,600.81 102.40,601.03 103.30,601.11 104.20,601.24 105.10,601.75 106.00,602.78 106.90,603.25 107.80,603.17 108.70,603.64 109.60,603.44 109.60,603.58 110.50,603.98 111.40,603.87 112.30,604.19 113.20,604.81 114.10,604.99 115.00,605.06 115.90,605.79 116.80,605.89 117.70,606.57 118.60,606.56 119.50,606.77 120.40,607.19 121.30,607.40 122.20,607.55 123.10,607.92 124.00,608.57 124.90,608.83 125.80,609.32 126.00,608.49 126.70,609.00 127.60,609.14 128.50,609.47 129.40,609.43 130.30,609.56 131.20,610.10 132.10,610.07 133.00,609.81 133.90,610.71 134.80,610.76 135.70,610.44 136.60,611.01 137.50,610.69 138.40,611.39 139.30,611.14 140.20,611.12 141.10,611.39 142.00,611.42 142.90,611.86 143.80,612.01 144.70,612.11 145.60,612.08 146.50,611.30 147.40,612.58 148.30,612.13 149.20,612.92 150.10,613.34 151.00,613.23 151.90,613.18 152.80,613.39 153.70,613.56 154.60,613.58 155.50,613.72 156.40,613.77 157.30,614.55 158.20,614.34 159.10,614.78 160.00,614.57 160.90,614.81 161.80,614.89 162.70,615.23 163.60,615.49 164.50,615.46 165.40,615.33 166.30,615.45 167.20,616.33 168.10,615.90 169.00,616.05 169.90,616.72 170.00,616.63 170.80,617.44 171.70,618.27 172.60,620.20 173.50,620.72 173.50,620.76 174.40,620.84 175.30,620.75 176.20,621.07 177.10,621.88 178.00,622.17 178.90,622.27 179.80,622.28 180.70,622.48 181.60,623.11 182.50,623.06 183.40,624.05 184.30,624.42 185.00,625.15 185.20,624.60 186.10,624.33 187.00,624.42 187.90,623.82 188.80,624.85 189.70,625.15 190.60,625.67 191.50,625.74 192.40,625.90 193.30,625.96 194.20,626.27 195.10,626.68 196.00,626.10 196.90,626.46 197.80,626.35 198.70,627.43 199.00,627.39 199.60,625.94 200.50,623.42 201.00,622.75 201.40,622.75 202.30,623.12 203.20,623.32 204.10,623.81 205.00,623.81 205.90,624.46 206.80,624.55 207.70,624.67 208.60,625.00 209.50,625.18 210.40,625.83 211.30,625.78 212.20,626.23 213.10,626.30 214.00,626.25 214.90,627.24 215.00,626.68 215.80,627.34 216.70,627.41 217.60,626.94 218.50,627.30 219.40,627.58 220.30,627.64 221.20,627.68 222.10,628.41 223.00,628.26 223.90,628.60 224.80,628.50 225.70,628.87 226.60,628.71 227.50,629.08 228.40,629.41 229.30,629.40 230.00,627.86 230.20,629.20 231.10,629.72 232.00,629.91 232.90,629.87 233.80,629.85 234.70,630.38 235.60,631.10 236.50,630.41 237.40,628.74 238.30,630.89 239.20,630.14 240.10,631.09 241.00,630.97 241.90,631.74 242.80,631.39 243.70,631.37 244.60,631.67 245.00,631.85 245.50,631.70 246.40,631.96 247.30,631.69 248.20,632.14 249.10,632.56 250.00,633.03 250.90,632.77 251.80,632.76 252.70,633.15 253.60,633.21 254.50,633.52 255.40,634.96 256.30,633.22 257.20,633.45 258.10,633.54 259.00,629.69 259.00,633.66 259.90,633.46 260.80,633.16 261.70,633.69 262.60,633.37 263.50,634.10 264.40,634.18 265.30,633.77 266.20,634.57 267.10,634.72 268.00,634.59 268.90,635.15 269.80,635.31 270.70,634.48 271.60,635.25 272.50,635.17 273.40,635.26 274.30,635.51 275.20,635.11 276.10,635.24 277.00,635.27 277.90,635.38 278.80,635.68 279.70,635.37 280.60,635.58 281.50,636.17 282.40,636.07 283.30,636.30 284.20,635.71 285.10,636.14 286.00,636.30 286.90,636.58 287.80,636.49 288.70,637.04 289.60,636.84 290.50,636.95 291.40,637.05 292.30,637.35 293.20,637.09 294.10,637.67 295.00,637.57 295.90,637.57 296.80,637.63 297.70,637.87 298.50,638.10 298.60,637.78 299.50,634.91 300.40,632.36 300.50,631.84 301.30,632.44 302.20,632.36 303.10,632.05 304.00,633.38 304.90,633.31 305.80,633.23 306.70,633.82 307.60,633.92 308.50,635.12 309.40,634.94 310.30,634.62 311.20,635.56 312.10,635.58 313.00,636.58 313.00,635.68 313.90,635.46 314.80,636.30 315.70,636.31 316.60,636.43 317.50,636.05 318.40,636.95 319.30,637.47 320.20,636.53 321.10,637.59 322.00,637.21 322.90,638.22 323.80,637.78 324.70,637.74 325.60,638.26 326.50,638.22 327.40,638.03 328.30,638.56 329.20,638.33 330.10,638.08 331.00,639.37 331.90,638.79 332.80,638.85 333.70,639.27 334.60,638.84 335.50,639.04 336.40,639.43 337.30,639.57 338.20,639.88 339.10,640.33 340.00,638.99 340.90,640.42 341.80,640.59 342.70,640.22 343.60,640.75 344.50,640.54 345.00,641.22 345.40,641.08 346.30,641.06 347.20,640.76 348.10,641.31 349.00,641.15 349.90,641.70 350.80,641.56 351.70,641.46 352.60,642.09 353.50,642.14 354.40,641.85 355.30,642.48 356.20,642.15 357.10,642.26 358.00,642.50 358.90,642.34 359.80,642.54 360.00,642.65 360.70,643.23 361.60,643.31 362.50,642.87 363.40,643.52 364.30,643.12 365.20,643.33 366.10,643.58 367.00,643.49 367.90,644.21 368.80,643.65 369.70,643.31 370.60,644.15 371.50,643.73 372.40,643.85 373.30,643.13 374.20,644.42 375.10,644.46 376.00,644.54 376.90,644.68 377.80,644.99 378.70,644.56 379.60,644.94 380.50,644.53 381.40,644.73 382.30,645.25 383.20,645.14 384.10,644.71 385.00,645.31 385.90,645.24 386.80,645.13 387.70,645.60 388.60,645.44 389.50,645.18 390.40,645.41 391.30,646.36 392.20,645.47 393.10,646.08 394.00,646.28 394.90,646.38 395.80,645.91 396.70,646.27 397.60,646.50 398.50,646.79 399.40,646.45 400.00,646.35 400.30,647.09 401.20,647.39 402.10,647.44 403.00,647.42 403.90,647.99 404.80,648.17 405.70,648.66 406.60,648.31 407.50,648.98 408.40,649.17 409.30,649.16 410.20,649.82 411.00,650.01 411.10,649.22 412.00,643.52 412.00,642.97 412.90,643.62 413.80,644.00 414.70,644.19 415.60,644.67 416.50,644.22 417.40,644.37 418.30,645.13 419.20,645.43 420.00,646.14 420.10,645.70 421.00,645.39 421.90,646.03 422.80,645.67 423.70,645.61 424.60,646.97 425.50,646.42 426.40,646.67 427.30,646.76 428.20,647.27 429.10,646.95 430.00,647.37 430.90,646.83 431.80,646.85 432.70,647.83 433.60,647.98 434.50,647.83 435.40,647.88 436.30,647.99 437.20,647.87 438.10,648.68 439.00,648.55 439.90,648.64 440.80,648.73 441.70,649.07 442.60,649.04 443.50,649.25 444.40,648.81 445.30,649.45 446.00,650.06 446.20,649.38 447.10,650.13 448.00,651.07 448.90,651.72 449.80,652.25 450.00,651.71 450.70,652.39 451.60,651.92 452.50,652.08 453.40,652.53 454.30,652.33 455.20,652.70 456.10,653.45 457.00,652.78 457.90,652.81 458.80,652.37 459.70,652.49 460.00,652.38 460.60,652.58 461.50,652.48 462.40,652.67 463.30,652.87 464.20,652.69 465.10,652.63 466.00,652.71 466.90,653.32 467.80,653.26 468.70,653.62 469.60,653.69 470.50,653.33 471.40,653.70 472.30,653.13 473.20,654.31 474.10,654.05 475.00,653.69 475.90,653.46 476.80,653.99 477.70,653.38 478.60,653.77 479.50,654.29 480.40,653.15 481.30,654.04 482.20,654.54 483.10,654.01 484.00,654.47 484.90,654.29 485.80,654.25 486.70,654.71 487.60,654.33 488.50,655.27 489.40,654.58 490.30,655.42 491.20,654.56 492.10,655.13 493.00,654.65 493.90,654.67 494.80,655.18 495.70,655.40 496.60,654.88 497.50,655.68 498.40,655.15 499.30,655.49 500.00,655.61 500.20,655.69 501.10,655.02 502.00,656.10 502.90,655.83 503.80,655.58 504.70,655.45 505.60,655.30 506.50,655.45 507.40,656.07 508.30,655.86 509.20,655.67 510.10,655.90 511.00,656.58 511.90,656.06 512.80,656.03 513.70,656.66 514.60,656.45 515.50,656.37 516.40,656.22 517.30,655.99 518.20,656.16 519.10,656.41 520.00,656.54 520.90,656.76 521.80,656.87 522.70,656.82 523.60,656.87 524.50,656.55 525.40,656.26 526.30,656.80 527.20,656.72 528.10,656.86 529.00,657.02 529.90,656.78 530.80,656.87 531.70,657.22 532.60,657.34 533.50,657.16 534.40,657.55 535.30,657.39 536.20,657.20 537.10,657.56 538.00,658.17 538.90,657.45 539.80,658.05 540.70,658.16 541.60,658.25 542.50,657.60 543.40,658.51 544.30,657.99 545.20,657.92 546.10,657.98 547.00,658.28" fill="none" stroke="#1c2a78" stroke-width="1.6" stroke-linejoin="round" />
<line x1="184" y1="565.8" x2="206.6" y2="565.8" stroke="#1c2a78" stroke-width="2"/>
<text x="209.00" y="569.30" font-size="13.5" text-anchor="start" fill="#000" font-weight="normal" >Charge</text>
<line x1="184" y1="587" x2="206.6" y2="587" stroke="#e8333f" stroke-width="2"/>
<text x="209.00" y="590.40" font-size="13.5" text-anchor="start" fill="#000" font-weight="normal" >Discharge</text>
<text x="397.70" y="568.80" font-size="11.8" fill="#595959" font-weight="bold" text-anchor="start" textLength="6.0" lengthAdjust="spacingAndGlyphs">n</text>
<text x="403.70" y="565.20" font-size="7.5" fill="#595959" font-weight="bold" text-anchor="start" textLength="7.2" lengthAdjust="spacingAndGlyphs">th</text>
<text x="413.60" y="568.80" font-size="11.8" fill="#595959" font-weight="bold" text-anchor="start" textLength="70.2" lengthAdjust="spacingAndGlyphs">cycle capacity</text>
<line x1="397" y1="571.1" x2="484" y2="571.1" stroke="#595959" stroke-width="1"/>
<text x="399.00" y="583.30" font-size="11.8" fill="#595959" font-weight="bold" text-anchor="start" textLength="4.8" lengthAdjust="spacingAndGlyphs">1</text>
<text x="404.10" y="579.50" font-size="7.5" fill="#595959" font-weight="bold" text-anchor="start" textLength="5.9" lengthAdjust="spacingAndGlyphs">st</text>
<text x="413.20" y="583.30" font-size="11.8" fill="#595959" font-weight="bold" text-anchor="start" textLength="69.2" lengthAdjust="spacingAndGlyphs">cycle capacity</text>
<text x="306.70" y="706.90" font-size="15.5" text-anchor="start" fill="#000" font-weight="normal" >e)</text>
<text x="0" y="0" font-size="13.5" text-anchor="middle" transform="translate(11.9,770.7) rotate(-90)">Capacity Loss / mAh</text>
<rect x="68" y="719" width="461" height="67.7" fill="#ffb3b8"/>
<rect x="68" y="790" width="461" height="37.5" fill="#e85a63"/>
<rect x="68" y="829.3" width="461" height="17.3" fill="#b05a5e"/>
<line x1="67.5" y1="719" x2="67.5" y2="848" stroke="#d9d9d9" stroke-width="1"/>
<line x1="67.5" y1="848" x2="529" y2="848" stroke="#d9d9d9" stroke-width="1"/>
<text x="55.50" y="852.00" font-size="14" text-anchor="end" fill="#000" font-weight="normal" >0</text>
<text x="55.50" y="830.55" font-size="14" text-anchor="end" fill="#000" font-weight="normal" >100</text>
<text x="55.50" y="809.10" font-size="14" text-anchor="end" fill="#000" font-weight="normal" >200</text>
<text x="55.50" y="787.65" font-size="14" text-anchor="end" fill="#000" font-weight="normal" >300</text>
<text x="55.50" y="766.20" font-size="14" text-anchor="end" fill="#000" font-weight="normal" >400</text>
<text x="55.50" y="744.75" font-size="14" text-anchor="end" fill="#000" font-weight="normal" >500</text>
<text x="55.50" y="723.30" font-size="14" text-anchor="end" fill="#000" font-weight="normal" >600</text>
<text x="67.30" y="868.90" font-size="14" text-anchor="middle" fill="#000" font-weight="normal" >0</text>
<text x="124.97" y="868.90" font-size="14" text-anchor="middle" fill="#000" font-weight="normal" >50</text>
<text x="182.65" y="868.90" font-size="14" text-anchor="middle" fill="#000" font-weight="normal" >100</text>
<text x="240.32" y="868.90" font-size="14" text-anchor="middle" fill="#000" font-weight="normal" >150</text>
<text x="298.00" y="868.90" font-size="14" text-anchor="middle" fill="#000" font-weight="normal" >200</text>
<text x="355.68" y="868.90" font-size="14" text-anchor="middle" fill="#000" font-weight="normal" >250</text>
<text x="413.35" y="868.90" font-size="14" text-anchor="middle" fill="#000" font-weight="normal" >300</text>
<text x="471.03" y="868.90" font-size="14" text-anchor="middle" fill="#000" font-weight="normal" >350</text>
<text x="528.70" y="868.90" font-size="14" text-anchor="middle" fill="#000" font-weight="normal" >400</text>
<text x="298.00" y="886.90" font-size="13.5" text-anchor="middle" fill="#000" font-weight="normal" >Operational cycles / -</text>
<polyline points="66.80,826.50 68.45,831.59 69.03,830.53 69.61,829.21 70.18,826.48 70.76,824.80 71.34,824.36 71.91,823.08 72.49,825.14 73.07,823.01 73.64,823.10 74.22,821.87 74.80,821.63 75.37,819.28 75.95,819.22 76.53,818.21 77.10,816.82 77.68,816.55 78.26,816.79 78.83,815.34 79.41,816.38 79.99,816.56 80.57,816.02 81.14,815.44 81.72,813.99 82.30,813.81 82.87,813.81 83.45,812.45 84.03,811.89 84.60,812.18 85.18,812.06 85.76,810.22 86.33,809.03 86.91,809.15 87.49,808.92 88.06,808.91 88.64,808.86 89.22,808.05 89.79,807.35 90.37,807.37 90.95,806.41 91.52,806.47 92.10,805.78 92.68,807.05 93.25,805.74 93.83,804.54 94.41,804.09 94.98,804.00 95.56,803.04 96.14,803.14 96.71,802.79 97.29,803.25 97.87,802.26 98.44,801.74 99.02,801.13 99.60,800.89 100.17,801.12 100.75,800.72 101.33,801.08 101.91,799.88 102.48,800.41 103.06,799.71 103.64,799.27 104.21,797.97 104.79,798.03 105.37,798.75 105.94,798.79 106.52,797.90 107.10,797.90 107.67,797.03 108.25,796.76 108.83,796.34 109.40,796.88 109.98,796.29 110.56,795.74 111.13,795.42 111.71,795.60 112.29,795.22 112.86,794.38 113.44,795.39 114.02,794.41 114.59,794.03 115.17,794.51 115.75,794.03 116.32,793.22 116.90,793.29 117.48,792.24 118.05,792.21 118.63,791.16 119.21,792.66 119.78,790.86 120.36,791.92 120.94,790.93 121.51,790.62 122.09,790.78 122.67,790.78 123.24,790.73 123.82,791.08 124.40,790.15 124.97,790.19 125.55,789.22 126.13,789.66 126.71,789.16 127.28,788.63 127.86,788.60 128.44,788.40 129.01,788.31 129.59,788.21 130.17,787.54 130.74,787.22 131.32,787.75 131.90,786.32 132.47,786.65 133.05,787.53 133.63,785.20 134.20,786.01 134.78,786.49 135.36,785.13 135.93,787.05 136.51,784.26 137.09,786.07 137.66,785.94 138.24,785.42 138.82,784.66 139.39,784.76 139.97,783.94 140.55,784.60 141.12,783.45 141.70,783.68 142.28,784.13 142.85,782.88 143.43,783.07 144.01,783.15 144.58,782.22 145.16,783.29 145.74,782.69 146.31,781.58 146.89,782.14 147.47,781.59 148.05,781.47 148.62,781.66 149.20,781.09 149.78,781.75 150.35,780.74 150.93,781.41 151.51,780.72 152.08,781.00 152.66,780.13 153.24,779.97 153.81,779.48 154.39,780.18 154.97,780.19 155.54,780.61 156.12,780.03 156.70,779.34 157.27,778.94 157.85,779.08 158.43,778.70 159.00,779.28 159.58,778.86 160.16,772.31 160.73,772.22 161.31,773.08 161.89,772.39 162.46,771.96 163.04,772.51 163.62,771.57 164.19,771.46 164.77,771.21 165.35,770.31 165.92,771.56 166.50,770.37 167.08,770.53 167.65,770.29 168.23,770.87 168.81,770.32 169.38,770.21 169.96,769.21 170.54,769.85 171.12,769.01 171.69,769.75 172.27,769.63 172.85,769.29 173.42,770.17 174.00,769.26 174.58,769.15 175.15,768.77 175.73,768.46 176.31,768.89 176.88,768.81 177.46,767.46 178.04,768.50 178.61,768.08 179.19,768.16 179.77,767.77 180.34,766.77 180.92,766.67 181.50,768.02 182.07,767.09 182.65,766.12 183.23,766.86 183.80,766.36 184.38,765.48 184.96,765.12 185.53,765.33 186.11,766.12 186.69,765.83 187.26,765.59 187.84,765.72 188.42,765.74 188.99,764.25 189.57,765.02 190.15,764.62 190.72,764.28 191.30,764.49 191.88,764.57 192.45,764.36 193.03,763.63 193.61,763.99 194.19,765.10 194.76,763.44 195.34,762.99 195.92,763.84 196.49,763.87 197.07,765.67 197.65,764.75 198.22,765.68 198.80,764.66 199.38,764.35 199.95,764.49 200.53,764.61 201.11,764.89 201.68,764.72 202.26,764.27 202.84,764.62 203.41,764.07 203.99,764.35 204.57,763.07 205.14,762.86 205.72,763.91 206.30,762.70 206.87,763.12 207.45,763.10 208.03,762.78 208.60,762.67 209.18,763.47 209.76,761.39 210.33,762.97 210.91,763.56 211.49,762.30 212.06,762.16 212.64,762.41 213.22,762.84 213.79,761.21 214.37,761.73 214.95,761.47 215.52,761.72 216.10,761.40 216.68,761.54 217.25,760.88 217.83,760.99 218.41,760.52 218.99,760.40 219.56,760.54 220.14,760.43 220.72,759.80 221.29,761.05 221.87,760.08 222.45,759.34 223.02,759.17 223.60,758.13 224.18,758.64 224.75,758.26 225.33,758.28 225.91,758.13 226.48,757.64 227.06,757.83 227.64,758.72 228.21,756.47 228.79,757.51 229.37,757.58 229.94,756.72 230.52,756.45 231.10,758.10 231.67,756.73 232.25,757.84 232.83,756.96 233.40,756.62 233.98,756.71 234.56,756.67 235.13,756.84 235.71,756.36 236.29,756.10 236.86,756.01 237.44,756.48 238.02,756.11 238.59,755.09 239.17,755.16 239.75,755.54 240.32,754.95 240.90,754.97 241.48,754.57 242.06,754.81 242.63,755.05 243.21,755.23 243.79,754.63 244.36,755.55 244.94,754.37 245.52,755.90 246.09,754.70 246.67,754.34 247.25,753.74 247.82,752.47 248.40,753.70 248.98,753.76 249.55,754.53 250.13,752.78 250.71,754.31 251.28,758.13 251.86,758.52 252.44,756.78 253.01,758.02 253.59,757.67 254.17,754.08 254.74,753.69 255.32,752.97 255.90,753.91 256.47,753.68 257.05,753.53 257.63,753.64 258.20,753.58 258.78,752.92 259.36,752.15 259.93,752.03 260.51,753.30 261.09,752.88 261.66,752.48 262.24,752.11 262.82,752.24 263.39,752.14 263.97,751.86 264.55,751.58 265.13,752.91 265.70,751.85 266.28,751.33 266.86,750.88 267.43,751.07 268.01,751.70 268.59,751.62 269.16,751.03 269.74,751.07 270.32,750.80 270.89,750.30 271.47,751.41 272.05,750.85 272.62,751.80 273.20,750.09 273.78,750.30 274.35,750.72 274.93,750.06 275.51,749.39 276.08,749.51 276.66,749.94 277.24,749.97 277.81,749.66 278.39,750.11 278.97,750.01 279.54,749.58 280.12,749.34 280.70,749.10 281.27,749.41 281.85,749.50 282.43,748.98 283.00,749.08 283.58,748.60 284.16,747.96 284.73,748.08 285.31,748.87 285.89,748.62 286.46,749.09 287.04,752.54 287.62,752.85 288.20,752.98 288.77,752.73 289.35,751.84 289.93,751.96 290.50,752.02 291.08,751.37 291.66,752.01 292.23,752.20 292.81,751.35 293.39,752.49 293.96,751.27 294.54,751.22 295.12,751.11 295.69,750.79 296.27,751.26 296.85,750.97 297.42,751.70 298.00,745.79 298.58,745.66 299.15,745.20 299.73,744.51 300.31,745.08 300.88,744.62 301.46,745.43 302.04,744.85 302.61,745.61 303.19,745.06 303.77,745.02 304.34,744.63 304.92,744.53 305.50,744.66 306.07,744.71 306.65,743.81 307.23,744.32 307.80,745.30 308.38,743.86 308.96,743.69 309.54,743.38 310.11,742.92 310.69,744.15 311.27,743.50 311.84,743.53 312.42,744.22 313.00,744.47 313.57,742.68 314.15,743.57 314.73,743.27 315.30,743.07 315.88,743.03 316.46,742.69 317.03,743.41 317.61,742.84 318.19,742.62 318.76,742.99 319.34,742.73 319.92,742.43 320.49,742.28 321.07,742.91 321.65,742.20 322.22,741.82 322.80,741.35 323.38,741.52 323.95,741.09 324.53,741.58 325.11,741.57 325.68,740.34 326.26,741.29 326.84,741.52 327.41,741.20 327.99,740.55 328.57,741.58 329.14,740.52 329.72,740.17 330.30,740.16 330.87,740.61 331.45,741.03 332.03,741.04 332.61,740.48 333.18,739.70 333.76,739.89 334.34,739.68 334.91,739.96 335.49,739.08 336.07,739.95 336.64,740.13 337.22,739.66 337.80,739.88 338.37,739.10 338.95,738.76 339.53,739.09 340.10,739.91 340.68,739.76 341.26,738.94 341.83,739.69 342.41,738.85 342.99,739.69 343.56,739.09 344.14,738.55 344.72,739.09 345.29,738.23 345.87,738.07 346.45,737.73 347.02,738.51 347.60,738.27 348.18,738.18 348.75,737.94 349.33,738.78 349.91,737.77 350.48,737.55 351.06,738.45 351.64,738.46 352.21,737.84 352.79,736.73 353.37,737.22 353.94,737.75 354.52,737.37 355.10,738.06 355.68,736.53 356.25,737.47 356.83,736.74 357.41,737.64 357.98,736.87 358.56,737.34 359.14,736.43 359.71,735.97 360.29,736.04 360.87,736.22 361.44,735.93 362.02,736.97 362.60,736.96 363.17,736.35 363.75,735.63 364.33,736.01 364.90,735.65 365.48,736.64 366.06,736.00 366.63,736.01 367.21,735.49 367.79,734.61 368.36,735.16 368.94,734.91 369.52,735.58 370.09,735.36 370.67,734.84 371.25,734.97 371.82,735.88 372.40,734.54 372.98,734.49 373.55,734.76 374.13,734.45 374.71,734.51 375.28,734.92 375.86,735.44 376.44,733.91 377.01,734.72 377.59,734.68 378.17,734.54 378.75,734.42 379.32,734.27 379.90,734.86 380.48,734.06 381.05,734.15 381.63,734.14 382.21,734.12 382.78,733.91 383.36,734.43 383.94,733.85 384.51,733.87 385.09,733.68 385.67,733.14 386.24,733.15 386.82,732.97 387.40,733.52 387.97,732.99 388.55,732.75 389.13,733.32 389.70,733.40 390.28,732.18 390.86,733.84 391.43,732.94 392.01,732.80 392.59,733.31 393.16,732.74 393.74,732.33 394.32,733.66 394.89,731.96 395.47,732.37 396.05,732.78 396.62,731.75 397.20,732.16 397.78,732.33 398.35,737.47 398.93,735.75 399.51,736.11 400.08,736.39 400.66,736.03 401.24,735.32 401.81,736.05 402.39,735.83 402.97,735.93 403.55,736.21 404.12,736.08 404.70,735.71 405.28,735.59 405.85,734.81 406.43,735.23 407.01,735.33 407.58,734.96 408.16,735.14 408.74,734.61 409.31,735.72 409.89,735.96 410.47,733.12 411.04,733.44 411.62,733.06 412.20,733.74 412.77,733.26 413.35,733.01 413.93,732.79 414.50,732.90 415.08,732.26 415.66,733.03 416.23,732.27 416.81,732.83 417.39,732.56 417.96,732.97 418.54,732.35 419.12,732.80 419.69,731.76 420.27,732.46 420.85,731.98 421.42,732.12 422.00,731.99 422.58,732.35 423.15,730.81 423.73,731.91 424.31,730.94 424.88,732.22 425.46,730.57 426.04,730.98 426.62,730.58 427.19,732.17 427.77,730.64 428.35,731.28 428.92,730.88 429.50,730.19 430.08,730.85 430.65,731.29 431.23,730.80 431.81,731.29 432.38,730.58 432.96,730.69 433.54,730.43 434.11,728.03 434.69,728.74 435.27,727.91 435.84,727.76 436.42,727.29 437.00,727.15 437.57,728.20 438.15,726.84 438.73,726.88 439.30,727.22 439.88,726.99 440.46,728.12 441.03,725.89 441.61,727.19 442.19,727.30 442.76,726.32 443.34,726.49 443.92,726.97 444.49,727.50 445.07,726.16 445.65,725.77 446.22,726.98 446.80,727.19 447.38,726.20 447.95,725.19 448.53,726.96 449.11,726.07 449.69,726.67 450.26,726.02 450.84,725.79 451.42,725.69 451.99,726.59 452.57,726.51 453.15,724.66 453.72,725.20 454.30,726.49 454.88,725.35 455.45,724.79 456.03,725.41 456.61,725.29 457.18,725.24 457.76,724.98 458.34,725.00 458.91,724.87 459.49,725.20 460.07,724.56 460.64,724.76 461.22,724.77 461.80,725.43 462.37,724.91 462.95,724.60 463.53,724.86 464.10,724.73 464.68,725.01 465.26,724.66 465.83,725.24 466.41,724.95 466.99,724.20 467.56,723.95 468.14,724.54 468.72,724.29 469.29,723.92 469.87,723.17 470.45,722.93 471.03,723.96 471.60,724.11 472.18,724.07 472.76,722.96 473.33,724.06 473.91,723.21 474.49,723.61 475.06,723.56 475.64,722.89 476.22,722.94 476.79,722.14 477.37,722.65 477.95,722.15 478.52,723.21 479.10,722.96 479.68,723.33 480.25,722.99 480.83,722.43 481.41,722.86 481.98,722.43 482.56,722.87 483.14,722.66 483.71,721.95 484.29,722.38 484.87,722.35 485.44,722.11 486.02,722.65 486.60,723.00 487.17,721.90 487.75,721.85 488.33,720.84 488.90,721.84 489.48,721.62 490.06,720.70 490.63,721.87 491.21,721.96 491.79,721.24 492.36,721.36 492.94,721.00 493.52,721.81 494.10,720.61 494.67,721.15 495.25,722.22 495.83,721.21 496.40,721.36 496.98,721.00 497.56,720.42 498.13,720.93 498.71,721.09 499.29,720.32 499.86,720.94 500.44,721.34 501.02,721.19 501.59,719.81 502.17,720.05 502.75,719.67 503.32,720.96 503.90,720.67 504.48,720.66 505.05,719.81 505.63,719.60 506.21,720.17 506.78,720.12 507.36,719.58 507.94,720.02 508.51,720.22 509.09,719.95 509.67,719.26 510.24,718.67 510.82,719.53 511.40,719.69 511.97,719.42 512.55,719.28 513.13,719.09 513.70,719.73 514.28,719.29 514.86,719.32 515.43,718.72 516.01,718.83 516.59,719.17 517.16,718.53 517.74,718.34 518.32,718.75 518.90,719.46 519.47,718.90 520.05,719.47 520.63,718.62 521.20,718.47 521.78,717.88 522.36,718.23 522.93,719.17 523.51,718.56 524.09,718.71 524.66,718.64 525.24,718.23 525.82,718.07 526.39,718.18 526.97,718.40 527.55,718.23 528.12,718.19 528.70,717.97" fill="none" stroke="#6fb443" stroke-width="5.5" stroke-linejoin="round" stroke-linecap="round"/>
<polyline points="69.03,833.11 70.18,829.34 71.34,826.47 72.49,824.10 73.64,822.05 74.80,820.24 75.95,818.61 77.10,817.11 78.26,815.73 79.41,814.44 80.57,813.23 81.72,812.08 82.87,811.00 84.03,809.97 85.18,808.98 86.33,808.03 87.49,807.12 88.64,806.25 89.79,805.40 90.95,804.59 92.10,803.80 93.25,803.03 94.41,802.29 95.56,801.56 96.71,800.86 97.87,800.17 99.02,799.50 100.17,798.85 101.33,798.21 102.48,797.59 103.64,796.97 104.79,796.38 105.94,795.79 107.10,795.21 108.25,794.65 109.40,794.10 110.56,793.55 111.71,793.02 112.86,792.49 114.02,791.98 115.17,791.47 116.32,790.97 117.48,790.48 118.63,789.99 119.78,789.51 120.94,789.04 122.09,788.58 123.24,788.12 124.40,787.67 125.55,787.22 126.71,786.78 127.86,786.35 129.01,785.92 130.17,785.50 131.32,785.08 132.47,784.66 133.63,784.25 134.78,783.85 135.93,783.45 137.09,783.06 138.24,782.66 139.39,782.28 140.55,781.90 141.70,781.52 142.85,781.14 144.01,780.77 145.16,780.40 146.31,780.04 147.47,779.68 148.62,779.32 149.78,778.97 150.93,778.62 152.08,778.27 153.24,777.93 154.39,777.59 155.54,777.25 156.70,776.91 157.85,776.58 159.00,776.25 160.16,775.92 161.31,775.60 162.46,775.28 163.62,774.96 164.77,774.64 165.92,774.33 167.08,774.02 168.23,773.71 169.38,773.40 170.54,773.10 171.69,772.79 172.85,772.49 174.00,772.20 175.15,771.90 176.31,771.61 177.46,771.32 178.61,771.03 179.77,770.74 180.92,770.45 182.07,770.17 183.23,769.89 184.38,769.61 185.53,769.33 186.69,769.05 187.84,768.78 188.99,768.50 190.15,768.23 191.30,767.96 192.45,767.69 193.61,767.43 194.76,767.16 195.92,766.90 197.07,766.64 198.22,766.38 199.38,766.12 200.53,765.86 201.68,765.61 202.84,765.35 203.99,765.10 205.14,764.85 206.30,764.60 207.45,764.35 208.60,764.10 209.76,763.86 210.91,763.61 212.06,763.37 213.22,763.13 214.37,762.88 215.52,762.64 216.68,762.41 217.83,762.17 218.99,761.93 220.14,761.70 221.29,761.46 222.45,761.23 223.60,761.00 224.75,760.77 225.91,760.54 227.06,760.31 228.21,760.09 229.37,759.86 230.52,759.64 231.67,759.41 232.83,759.19 233.98,758.97 235.13,758.75 236.29,758.53 237.44,758.31 238.59,758.09 239.75,757.87 240.90,757.66 242.06,757.44 243.21,757.23 244.36,757.02 245.52,756.80 246.67,756.59 247.82,756.38 248.98,756.17 250.13,755.97 251.28,755.76 252.44,755.55 253.59,755.35 254.74,755.14 255.90,754.94 257.05,754.73 258.20,754.53 259.36,754.33 260.51,754.13 261.66,753.93 262.82,753.73 263.97,753.53 265.13,753.33 266.28,753.13 267.43,752.94 268.59,752.74 269.74,752.55 270.89,752.35 272.05,752.16 273.20,751.97 274.35,751.77 275.51,751.58 276.66,751.39 277.81,751.20 278.97,751.01 280.12,750.82 281.27,750.64 282.43,750.45 283.58,750.26 284.73,750.08 285.89,749.89 287.04,749.71 288.20,749.52 289.35,749.34 290.50,749.16 291.66,748.98 292.81,748.79 293.96,748.61 295.12,748.43 296.27,748.25 297.42,748.07 298.58,747.90 299.73,747.72 300.88,747.54 302.04,747.36 303.19,747.19 304.34,747.01 305.50,746.84 306.65,746.66 307.80,746.49 308.96,746.32 310.11,746.14 311.27,745.97 312.42,745.80 313.57,745.63 314.73,745.46 315.88,745.29 317.03,745.12 318.19,744.95 319.34,744.78 320.49,744.61 321.65,744.44 322.80,744.28 323.95,744.11 325.11,743.94 326.26,743.78 327.41,743.61 328.57,743.45 329.72,743.28 330.87,743.12 332.03,742.96 333.18,742.79 334.34,742.63 335.49,742.47 336.64,742.31 337.80,742.15 338.95,741.99 340.10,741.83 341.26,741.67 342.41,741.51 343.56,741.35 344.72,741.19 345.87,741.03 347.02,740.88 348.18,740.72 349.33,740.56 350.48,740.41 351.64,740.25 352.79,740.10 353.94,739.94 355.10,739.79 356.25,739.63 357.41,739.48 358.56,739.33 359.71,739.17 360.87,739.02 362.02,738.87 363.17,738.72 364.33,738.57 365.48,738.42 366.63,738.27 367.79,738.12 368.94,737.97 370.09,737.82 371.25,737.67 372.40,737.52 373.55,737.37 374.71,737.22 375.86,737.08 377.01,736.93 378.17,736.78 379.32,736.64 380.48,736.49 381.63,736.34 382.78,736.20 383.94,736.05 385.09,735.91 386.24,735.76 387.40,735.62 388.55,735.48 389.70,735.33 390.86,735.19 392.01,735.05 393.16,734.91 394.32,734.76 395.47,734.62 396.62,734.48 397.78,734.34 398.93,734.20 400.08,734.06 401.24,733.92 402.39,733.78 403.55,733.64 404.70,733.50 405.85,733.36 407.01,733.22 408.16,733.09 409.31,732.95 410.47,732.81 411.62,732.67 412.77,732.54 413.93,732.40 415.08,732.26 416.23,732.13 417.39,731.99 418.54,731.86 419.69,731.72 420.85,731.59 422.00,731.45 423.15,731.32 424.31,731.19 425.46,731.05 426.62,730.92 427.77,730.79 428.92,730.65 430.08,730.52 431.23,730.39 432.38,730.26 433.54,730.12 434.69,729.99 435.84,729.86 437.00,729.73 438.15,729.60 439.30,729.47 440.46,729.34 441.61,729.21 442.76,729.08 443.92,728.95 445.07,728.82 446.22,728.69 447.38,728.57 448.53,728.44 449.69,728.31 450.84,728.18 451.99,728.05 453.15,727.93 454.30,727.80 455.45,727.67 456.61,727.55 457.76,727.42 458.91,727.29 460.07,727.17 461.22,727.04 462.37,726.92 463.53,726.79 464.68,726.67 465.83,726.54 466.99,726.42 468.14,726.30 469.29,726.17 470.45,726.05 471.60,725.93 472.76,725.80 473.91,725.68 475.06,725.56 476.22,725.43 477.37,725.31 478.52,725.19 479.68,725.07 480.83,724.95 481.98,724.83 483.14,724.70 484.29,724.58 485.44,724.46 486.60,724.34 487.75,724.22 488.90,724.10 490.06,723.98 491.21,723.86 492.36,723.74 493.52,723.62 494.67,723.51 495.83,723.39 496.98,723.27 498.13,723.15 499.29,723.03 500.44,722.91 501.59,722.80 502.75,722.68 503.90,722.56 505.05,722.45 506.21,722.33 507.36,722.21 508.51,722.10 509.67,721.98 510.82,721.86 511.97,721.75 513.13,721.63 514.28,721.52 515.43,721.40 516.59,721.29 517.74,721.17 518.90,721.06 520.05,720.94 521.20,720.83 522.36,720.71 523.51,720.60 524.66,720.49 525.82,720.37 526.97,720.26 528.12,720.15" fill="none" stroke="#15206a" stroke-width="4.2" stroke-linejoin="round" stroke-linecap="round"/>
<text x="71.50" y="734.30" font-size="12.5" fill="#2b2b70" font-weight="normal" text-anchor="start" textLength="218.3" lengthAdjust="spacingAndGlyphs">Capacity Loss (mAh) = 73.84 x CycleNumber</text>
<text x="293.10" y="730.60" font-size="7.4" fill="#2b2b70" font-weight="normal" text-anchor="start" textLength="13.8" lengthAdjust="spacingAndGlyphs">0.35</text>
<text x="167.00" y="748.40" font-size="12.3" fill="#2b2b70" font-weight="normal" text-anchor="start" textLength="44.2" lengthAdjust="spacingAndGlyphs">R² = 0.99</text>
<text x="386.60" y="761.90" font-size="12.2" fill="#fff" font-weight="normal" text-anchor="start" textLength="126.8" lengthAdjust="spacingAndGlyphs">Long-duration degradation</text>
<text x="345.70" y="813.00" font-size="11.6" fill="#fff" font-weight="normal" text-anchor="start" textLength="52" lengthAdjust="spacingAndGlyphs">BoL losses</text>
<text x="97.40" y="842.90" font-size="12" fill="#fff" font-weight="normal" text-anchor="start" textLength="282.2" lengthAdjust="spacingAndGlyphs">Initial loss due to formation-to-operation protocol transition</text>
</svg></body></html>
